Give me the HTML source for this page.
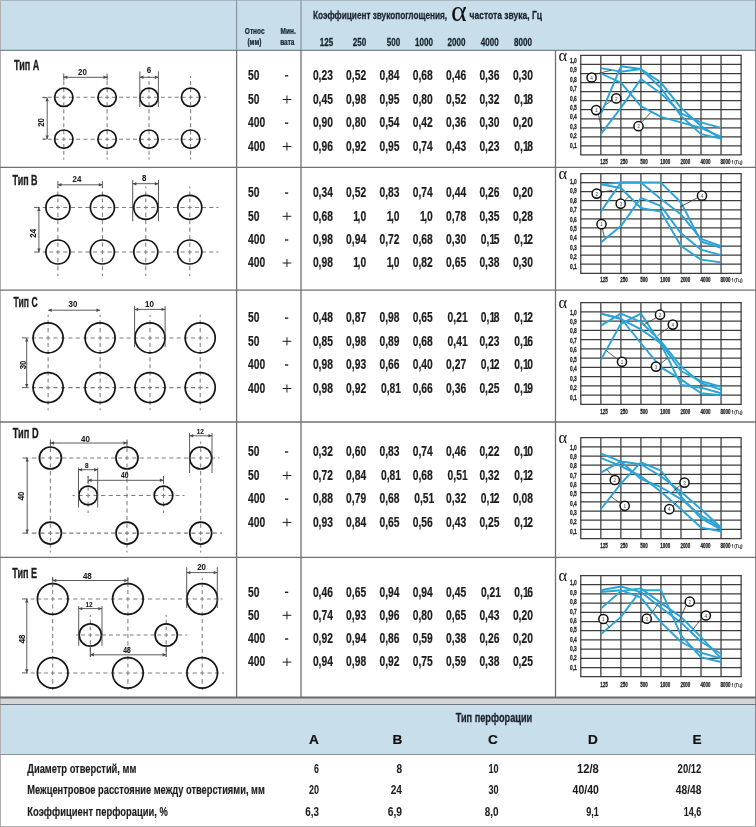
<!DOCTYPE html>
<html><head><meta charset="utf-8"><title>Перфорация</title>
<style>html,body{margin:0;padding:0;background:#fff;} svg{display:block;}</style>
</head><body>
<svg width="756" height="827" viewBox="0 0 756 827" font-family="Liberation Sans, sans-serif">
<rect x="0" y="0" width="756" height="827" fill="#ffffff"/>
<rect x="0" y="0" width="756" height="50" fill="#c8deea"/>
<rect x="0" y="698" width="756" height="6.5" fill="#d3d6db"/>
<rect x="0" y="704.5" width="756" height="50" fill="#c8deea"/>
<line x1="0.00" y1="0.50" x2="756.00" y2="0.50" stroke="#aab5bd" stroke-width="1" />
<line x1="0.50" y1="0.00" x2="0.50" y2="827.00" stroke="#b0b0b0" stroke-width="1" />
<line x1="755.50" y1="0.00" x2="755.50" y2="827.00" stroke="#8a8a8a" stroke-width="1" />
<line x1="0.00" y1="826.50" x2="756.00" y2="826.50" stroke="#b0b0b0" stroke-width="1" />
<line x1="0.00" y1="50.40" x2="756.00" y2="50.40" stroke="#7a858d" stroke-width="1.2" />
<line x1="0.00" y1="167.40" x2="756.00" y2="167.40" stroke="#707070" stroke-width="1.3" />
<line x1="0.00" y1="290.20" x2="756.00" y2="290.20" stroke="#707070" stroke-width="1.3" />
<line x1="0.00" y1="422.00" x2="756.00" y2="422.00" stroke="#707070" stroke-width="1.3" />
<line x1="0.00" y1="557.40" x2="756.00" y2="557.40" stroke="#707070" stroke-width="1.3" />
<line x1="0.00" y1="697.50" x2="756.00" y2="697.50" stroke="#6a6a6a" stroke-width="1.8" />
<line x1="0.00" y1="704.50" x2="756.00" y2="704.50" stroke="#707478" stroke-width="1.2" />
<line x1="0.00" y1="754.50" x2="756.00" y2="754.50" stroke="#8a9298" stroke-width="1" />
<line x1="236.60" y1="0.00" x2="236.60" y2="50.00" stroke="#8d99a3" stroke-width="1.3" />
<line x1="236.60" y1="50.00" x2="236.60" y2="697.00" stroke="#707070" stroke-width="1.3" />
<line x1="301.00" y1="0.00" x2="301.00" y2="50.00" stroke="#8d99a3" stroke-width="1.3" />
<line x1="301.00" y1="50.00" x2="301.00" y2="697.00" stroke="#707070" stroke-width="1.3" />
<line x1="555.50" y1="50.00" x2="555.50" y2="697.00" stroke="#707070" stroke-width="1.3" />
<text transform="translate(254.70,33.90) scale(0.74,1)" font-size="8.8" text-anchor="middle" font-weight="bold" fill="#1b2430" font-family="Liberation Sans" stroke="#1b2430" stroke-width="0.25">Относ</text>
<text transform="translate(254.40,45.40) scale(0.74,1)" font-size="8.8" text-anchor="middle" font-weight="bold" fill="#1b2430" font-family="Liberation Sans" stroke="#1b2430" stroke-width="0.25">(мм)</text>
<text transform="translate(288.20,33.90) scale(0.74,1)" font-size="8.8" text-anchor="middle" font-weight="bold" fill="#1b2430" font-family="Liberation Sans" stroke="#1b2430" stroke-width="0.25">Мин.</text>
<text transform="translate(287.30,45.40) scale(0.74,1)" font-size="8.8" text-anchor="middle" font-weight="bold" fill="#1b2430" font-family="Liberation Sans" stroke="#1b2430" stroke-width="0.25">вата</text>
<text x="313.00" y="18.80" font-size="11.8" textLength="134.00" lengthAdjust="spacingAndGlyphs" text-anchor="start" font-weight="bold" fill="#1b2430" font-family="Liberation Sans" stroke="#1b2430" stroke-width="0.3">Коэффициент звукопоглощения,</text>
<text x="451.0" y="21.0" font-size="30" fill="#111" font-family="Liberation Serif">α</text>
<text x="469.60" y="18.80" font-size="11.8" textLength="72.50" lengthAdjust="spacingAndGlyphs" text-anchor="start" font-weight="bold" fill="#1b2430" font-family="Liberation Sans" stroke="#1b2430" stroke-width="0.3">частота звука, Гц</text>
<text transform="translate(326.50,45.50) scale(0.72,1)" font-size="11.2" text-anchor="middle" font-weight="bold" fill="#1b2430" font-family="Liberation Sans" stroke="#1b2430" stroke-width="0.3">125</text>
<text transform="translate(359.60,45.50) scale(0.72,1)" font-size="11.2" text-anchor="middle" font-weight="bold" fill="#1b2430" font-family="Liberation Sans" stroke="#1b2430" stroke-width="0.3">250</text>
<text transform="translate(393.50,45.50) scale(0.72,1)" font-size="11.2" text-anchor="middle" font-weight="bold" fill="#1b2430" font-family="Liberation Sans" stroke="#1b2430" stroke-width="0.3">500</text>
<text transform="translate(424.00,45.50) scale(0.72,1)" font-size="11.2" text-anchor="middle" font-weight="bold" fill="#1b2430" font-family="Liberation Sans" stroke="#1b2430" stroke-width="0.3">1000</text>
<text transform="translate(456.50,45.50) scale(0.72,1)" font-size="11.2" text-anchor="middle" font-weight="bold" fill="#1b2430" font-family="Liberation Sans" stroke="#1b2430" stroke-width="0.3">2000</text>
<text transform="translate(489.70,45.50) scale(0.72,1)" font-size="11.2" text-anchor="middle" font-weight="bold" fill="#1b2430" font-family="Liberation Sans" stroke="#1b2430" stroke-width="0.3">4000</text>
<text transform="translate(523.00,45.50) scale(0.72,1)" font-size="11.2" text-anchor="middle" font-weight="bold" fill="#1b2430" font-family="Liberation Sans" stroke="#1b2430" stroke-width="0.3">8000</text>
<text transform="translate(248.00,80.00) scale(0.74,1)" font-size="13.9" text-anchor="start" font-weight="bold" fill="#1c1c1c" font-family="Liberation Sans" stroke="#1c1c1c" stroke-width="0.2">50</text>
<line x1="285.00" y1="75.80" x2="288.20" y2="75.80" stroke="#1c1c1c" stroke-width="1.4" />
<text transform="translate(332.90,80.00) scale(0.74,1)" font-size="13.9" text-anchor="end" font-weight="bold" fill="#1c1c1c" font-family="Liberation Sans" stroke="#1c1c1c" stroke-width="0.2">0,23</text>
<text transform="translate(366.10,80.00) scale(0.74,1)" font-size="13.9" text-anchor="end" font-weight="bold" fill="#1c1c1c" font-family="Liberation Sans" stroke="#1c1c1c" stroke-width="0.2">0,52</text>
<text transform="translate(399.50,80.00) scale(0.74,1)" font-size="13.9" text-anchor="end" font-weight="bold" fill="#1c1c1c" font-family="Liberation Sans" stroke="#1c1c1c" stroke-width="0.2">0,84</text>
<text transform="translate(432.80,80.00) scale(0.74,1)" font-size="13.9" text-anchor="end" font-weight="bold" fill="#1c1c1c" font-family="Liberation Sans" stroke="#1c1c1c" stroke-width="0.2">0,68</text>
<text transform="translate(466.10,80.00) scale(0.74,1)" font-size="13.9" text-anchor="end" font-weight="bold" fill="#1c1c1c" font-family="Liberation Sans" stroke="#1c1c1c" stroke-width="0.2">0,46</text>
<text transform="translate(499.40,80.00) scale(0.74,1)" font-size="13.9" text-anchor="end" font-weight="bold" fill="#1c1c1c" font-family="Liberation Sans" stroke="#1c1c1c" stroke-width="0.2">0,36</text>
<text transform="translate(532.90,80.00) scale(0.74,1)" font-size="13.9" text-anchor="end" font-weight="bold" fill="#1c1c1c" font-family="Liberation Sans" stroke="#1c1c1c" stroke-width="0.2">0,30</text>
<text transform="translate(248.00,103.80) scale(0.74,1)" font-size="13.9" text-anchor="start" font-weight="bold" fill="#1c1c1c" font-family="Liberation Sans" stroke="#1c1c1c" stroke-width="0.2">50</text>
<line x1="282.60" y1="99.50" x2="291.30" y2="99.50" stroke="#1c1c1c" stroke-width="1.0" />
<line x1="286.95" y1="95.50" x2="286.95" y2="103.50" stroke="#1c1c1c" stroke-width="1.0" />
<text transform="translate(332.90,103.80) scale(0.74,1)" font-size="13.9" text-anchor="end" font-weight="bold" fill="#1c1c1c" font-family="Liberation Sans" stroke="#1c1c1c" stroke-width="0.2">0,45</text>
<text transform="translate(366.10,103.80) scale(0.74,1)" font-size="13.9" text-anchor="end" font-weight="bold" fill="#1c1c1c" font-family="Liberation Sans" stroke="#1c1c1c" stroke-width="0.2">0,98</text>
<text transform="translate(399.50,103.80) scale(0.74,1)" font-size="13.9" text-anchor="end" font-weight="bold" fill="#1c1c1c" font-family="Liberation Sans" stroke="#1c1c1c" stroke-width="0.2">0,95</text>
<text transform="translate(432.80,103.80) scale(0.74,1)" font-size="13.9" text-anchor="end" font-weight="bold" fill="#1c1c1c" font-family="Liberation Sans" stroke="#1c1c1c" stroke-width="0.2">0,80</text>
<text transform="translate(466.10,103.80) scale(0.74,1)" font-size="13.9" text-anchor="end" font-weight="bold" fill="#1c1c1c" font-family="Liberation Sans" stroke="#1c1c1c" stroke-width="0.2">0,52</text>
<text transform="translate(499.40,103.80) scale(0.74,1)" font-size="13.9" text-anchor="end" font-weight="bold" fill="#1c1c1c" font-family="Liberation Sans" stroke="#1c1c1c" stroke-width="0.2">0,32</text>
<text transform="translate(532.90,103.80) scale(0.74,1)" font-size="13.9" text-anchor="end" font-weight="bold" fill="#1c1c1c" font-family="Liberation Sans" stroke="#1c1c1c" stroke-width="0.2">0,1<tspan dx="-2.0">8</tspan></text>
<text transform="translate(248.00,127.40) scale(0.74,1)" font-size="13.9" text-anchor="start" font-weight="bold" fill="#1c1c1c" font-family="Liberation Sans" stroke="#1c1c1c" stroke-width="0.2">400</text>
<line x1="285.00" y1="123.20" x2="288.20" y2="123.20" stroke="#1c1c1c" stroke-width="1.4" />
<text transform="translate(332.90,127.40) scale(0.74,1)" font-size="13.9" text-anchor="end" font-weight="bold" fill="#1c1c1c" font-family="Liberation Sans" stroke="#1c1c1c" stroke-width="0.2">0,90</text>
<text transform="translate(366.10,127.40) scale(0.74,1)" font-size="13.9" text-anchor="end" font-weight="bold" fill="#1c1c1c" font-family="Liberation Sans" stroke="#1c1c1c" stroke-width="0.2">0,80</text>
<text transform="translate(399.50,127.40) scale(0.74,1)" font-size="13.9" text-anchor="end" font-weight="bold" fill="#1c1c1c" font-family="Liberation Sans" stroke="#1c1c1c" stroke-width="0.2">0,54</text>
<text transform="translate(432.80,127.40) scale(0.74,1)" font-size="13.9" text-anchor="end" font-weight="bold" fill="#1c1c1c" font-family="Liberation Sans" stroke="#1c1c1c" stroke-width="0.2">0,42</text>
<text transform="translate(466.10,127.40) scale(0.74,1)" font-size="13.9" text-anchor="end" font-weight="bold" fill="#1c1c1c" font-family="Liberation Sans" stroke="#1c1c1c" stroke-width="0.2">0,36</text>
<text transform="translate(499.40,127.40) scale(0.74,1)" font-size="13.9" text-anchor="end" font-weight="bold" fill="#1c1c1c" font-family="Liberation Sans" stroke="#1c1c1c" stroke-width="0.2">0,30</text>
<text transform="translate(532.90,127.40) scale(0.74,1)" font-size="13.9" text-anchor="end" font-weight="bold" fill="#1c1c1c" font-family="Liberation Sans" stroke="#1c1c1c" stroke-width="0.2">0,20</text>
<text transform="translate(248.00,150.80) scale(0.74,1)" font-size="13.9" text-anchor="start" font-weight="bold" fill="#1c1c1c" font-family="Liberation Sans" stroke="#1c1c1c" stroke-width="0.2">400</text>
<line x1="282.60" y1="146.50" x2="291.30" y2="146.50" stroke="#1c1c1c" stroke-width="1.0" />
<line x1="286.95" y1="142.50" x2="286.95" y2="150.50" stroke="#1c1c1c" stroke-width="1.0" />
<text transform="translate(332.90,150.80) scale(0.74,1)" font-size="13.9" text-anchor="end" font-weight="bold" fill="#1c1c1c" font-family="Liberation Sans" stroke="#1c1c1c" stroke-width="0.2">0,96</text>
<text transform="translate(366.10,150.80) scale(0.74,1)" font-size="13.9" text-anchor="end" font-weight="bold" fill="#1c1c1c" font-family="Liberation Sans" stroke="#1c1c1c" stroke-width="0.2">0,92</text>
<text transform="translate(399.50,150.80) scale(0.74,1)" font-size="13.9" text-anchor="end" font-weight="bold" fill="#1c1c1c" font-family="Liberation Sans" stroke="#1c1c1c" stroke-width="0.2">0,95</text>
<text transform="translate(432.80,150.80) scale(0.74,1)" font-size="13.9" text-anchor="end" font-weight="bold" fill="#1c1c1c" font-family="Liberation Sans" stroke="#1c1c1c" stroke-width="0.2">0,74</text>
<text transform="translate(466.10,150.80) scale(0.74,1)" font-size="13.9" text-anchor="end" font-weight="bold" fill="#1c1c1c" font-family="Liberation Sans" stroke="#1c1c1c" stroke-width="0.2">0,43</text>
<text transform="translate(499.40,150.80) scale(0.74,1)" font-size="13.9" text-anchor="end" font-weight="bold" fill="#1c1c1c" font-family="Liberation Sans" stroke="#1c1c1c" stroke-width="0.2">0,23</text>
<text transform="translate(532.90,150.80) scale(0.74,1)" font-size="13.9" text-anchor="end" font-weight="bold" fill="#1c1c1c" font-family="Liberation Sans" stroke="#1c1c1c" stroke-width="0.2">0,1<tspan dx="-2.0">8</tspan></text>
<text transform="translate(248.00,197.30) scale(0.74,1)" font-size="13.9" text-anchor="start" font-weight="bold" fill="#1c1c1c" font-family="Liberation Sans" stroke="#1c1c1c" stroke-width="0.2">50</text>
<line x1="285.00" y1="193.10" x2="288.20" y2="193.10" stroke="#1c1c1c" stroke-width="1.4" />
<text transform="translate(332.90,197.30) scale(0.74,1)" font-size="13.9" text-anchor="end" font-weight="bold" fill="#1c1c1c" font-family="Liberation Sans" stroke="#1c1c1c" stroke-width="0.2">0,34</text>
<text transform="translate(366.10,197.30) scale(0.74,1)" font-size="13.9" text-anchor="end" font-weight="bold" fill="#1c1c1c" font-family="Liberation Sans" stroke="#1c1c1c" stroke-width="0.2">0,52</text>
<text transform="translate(399.50,197.30) scale(0.74,1)" font-size="13.9" text-anchor="end" font-weight="bold" fill="#1c1c1c" font-family="Liberation Sans" stroke="#1c1c1c" stroke-width="0.2">0,83</text>
<text transform="translate(432.80,197.30) scale(0.74,1)" font-size="13.9" text-anchor="end" font-weight="bold" fill="#1c1c1c" font-family="Liberation Sans" stroke="#1c1c1c" stroke-width="0.2">0,74</text>
<text transform="translate(466.10,197.30) scale(0.74,1)" font-size="13.9" text-anchor="end" font-weight="bold" fill="#1c1c1c" font-family="Liberation Sans" stroke="#1c1c1c" stroke-width="0.2">0,44</text>
<text transform="translate(499.40,197.30) scale(0.74,1)" font-size="13.9" text-anchor="end" font-weight="bold" fill="#1c1c1c" font-family="Liberation Sans" stroke="#1c1c1c" stroke-width="0.2">0,26</text>
<text transform="translate(532.90,197.30) scale(0.74,1)" font-size="13.9" text-anchor="end" font-weight="bold" fill="#1c1c1c" font-family="Liberation Sans" stroke="#1c1c1c" stroke-width="0.2">0,20</text>
<text transform="translate(248.00,220.60) scale(0.74,1)" font-size="13.9" text-anchor="start" font-weight="bold" fill="#1c1c1c" font-family="Liberation Sans" stroke="#1c1c1c" stroke-width="0.2">50</text>
<line x1="282.60" y1="216.30" x2="291.30" y2="216.30" stroke="#1c1c1c" stroke-width="1.0" />
<line x1="286.95" y1="212.30" x2="286.95" y2="220.30" stroke="#1c1c1c" stroke-width="1.0" />
<text transform="translate(332.90,220.60) scale(0.74,1)" font-size="13.9" text-anchor="end" font-weight="bold" fill="#1c1c1c" font-family="Liberation Sans" stroke="#1c1c1c" stroke-width="0.2">0,68</text>
<text transform="translate(366.10,220.60) scale(0.74,1)" font-size="13.9" text-anchor="end" font-weight="bold" fill="#1c1c1c" font-family="Liberation Sans" stroke="#1c1c1c" stroke-width="0.2">1<tspan dx="-2.0">,</tspan>0</text>
<text transform="translate(399.50,220.60) scale(0.74,1)" font-size="13.9" text-anchor="end" font-weight="bold" fill="#1c1c1c" font-family="Liberation Sans" stroke="#1c1c1c" stroke-width="0.2">1<tspan dx="-2.0">,</tspan>0</text>
<text transform="translate(432.80,220.60) scale(0.74,1)" font-size="13.9" text-anchor="end" font-weight="bold" fill="#1c1c1c" font-family="Liberation Sans" stroke="#1c1c1c" stroke-width="0.2">1<tspan dx="-2.0">,</tspan>0</text>
<text transform="translate(466.10,220.60) scale(0.74,1)" font-size="13.9" text-anchor="end" font-weight="bold" fill="#1c1c1c" font-family="Liberation Sans" stroke="#1c1c1c" stroke-width="0.2">0,78</text>
<text transform="translate(499.40,220.60) scale(0.74,1)" font-size="13.9" text-anchor="end" font-weight="bold" fill="#1c1c1c" font-family="Liberation Sans" stroke="#1c1c1c" stroke-width="0.2">0,35</text>
<text transform="translate(532.90,220.60) scale(0.74,1)" font-size="13.9" text-anchor="end" font-weight="bold" fill="#1c1c1c" font-family="Liberation Sans" stroke="#1c1c1c" stroke-width="0.2">0,28</text>
<text transform="translate(248.00,244.20) scale(0.74,1)" font-size="13.9" text-anchor="start" font-weight="bold" fill="#1c1c1c" font-family="Liberation Sans" stroke="#1c1c1c" stroke-width="0.2">400</text>
<line x1="285.00" y1="240.00" x2="288.20" y2="240.00" stroke="#1c1c1c" stroke-width="1.4" />
<text transform="translate(332.90,244.20) scale(0.74,1)" font-size="13.9" text-anchor="end" font-weight="bold" fill="#1c1c1c" font-family="Liberation Sans" stroke="#1c1c1c" stroke-width="0.2">0,98</text>
<text transform="translate(366.10,244.20) scale(0.74,1)" font-size="13.9" text-anchor="end" font-weight="bold" fill="#1c1c1c" font-family="Liberation Sans" stroke="#1c1c1c" stroke-width="0.2">0,94</text>
<text transform="translate(399.50,244.20) scale(0.74,1)" font-size="13.9" text-anchor="end" font-weight="bold" fill="#1c1c1c" font-family="Liberation Sans" stroke="#1c1c1c" stroke-width="0.2">0,72</text>
<text transform="translate(432.80,244.20) scale(0.74,1)" font-size="13.9" text-anchor="end" font-weight="bold" fill="#1c1c1c" font-family="Liberation Sans" stroke="#1c1c1c" stroke-width="0.2">0,68</text>
<text transform="translate(466.10,244.20) scale(0.74,1)" font-size="13.9" text-anchor="end" font-weight="bold" fill="#1c1c1c" font-family="Liberation Sans" stroke="#1c1c1c" stroke-width="0.2">0,30</text>
<text transform="translate(499.40,244.20) scale(0.74,1)" font-size="13.9" text-anchor="end" font-weight="bold" fill="#1c1c1c" font-family="Liberation Sans" stroke="#1c1c1c" stroke-width="0.2">0,1<tspan dx="-2.0">5</tspan></text>
<text transform="translate(532.90,244.20) scale(0.74,1)" font-size="13.9" text-anchor="end" font-weight="bold" fill="#1c1c1c" font-family="Liberation Sans" stroke="#1c1c1c" stroke-width="0.2">0,1<tspan dx="-2.0">2</tspan></text>
<text transform="translate(248.00,267.30) scale(0.74,1)" font-size="13.9" text-anchor="start" font-weight="bold" fill="#1c1c1c" font-family="Liberation Sans" stroke="#1c1c1c" stroke-width="0.2">400</text>
<line x1="282.60" y1="263.00" x2="291.30" y2="263.00" stroke="#1c1c1c" stroke-width="1.0" />
<line x1="286.95" y1="259.00" x2="286.95" y2="267.00" stroke="#1c1c1c" stroke-width="1.0" />
<text transform="translate(332.90,267.30) scale(0.74,1)" font-size="13.9" text-anchor="end" font-weight="bold" fill="#1c1c1c" font-family="Liberation Sans" stroke="#1c1c1c" stroke-width="0.2">0,98</text>
<text transform="translate(366.10,267.30) scale(0.74,1)" font-size="13.9" text-anchor="end" font-weight="bold" fill="#1c1c1c" font-family="Liberation Sans" stroke="#1c1c1c" stroke-width="0.2">1<tspan dx="-2.0">,</tspan>0</text>
<text transform="translate(399.50,267.30) scale(0.74,1)" font-size="13.9" text-anchor="end" font-weight="bold" fill="#1c1c1c" font-family="Liberation Sans" stroke="#1c1c1c" stroke-width="0.2">1<tspan dx="-2.0">,</tspan>0</text>
<text transform="translate(432.80,267.30) scale(0.74,1)" font-size="13.9" text-anchor="end" font-weight="bold" fill="#1c1c1c" font-family="Liberation Sans" stroke="#1c1c1c" stroke-width="0.2">0,82</text>
<text transform="translate(466.10,267.30) scale(0.74,1)" font-size="13.9" text-anchor="end" font-weight="bold" fill="#1c1c1c" font-family="Liberation Sans" stroke="#1c1c1c" stroke-width="0.2">0,65</text>
<text transform="translate(499.40,267.30) scale(0.74,1)" font-size="13.9" text-anchor="end" font-weight="bold" fill="#1c1c1c" font-family="Liberation Sans" stroke="#1c1c1c" stroke-width="0.2">0,38</text>
<text transform="translate(532.90,267.30) scale(0.74,1)" font-size="13.9" text-anchor="end" font-weight="bold" fill="#1c1c1c" font-family="Liberation Sans" stroke="#1c1c1c" stroke-width="0.2">0,30</text>
<text transform="translate(248.00,322.30) scale(0.74,1)" font-size="13.9" text-anchor="start" font-weight="bold" fill="#1c1c1c" font-family="Liberation Sans" stroke="#1c1c1c" stroke-width="0.2">50</text>
<line x1="285.00" y1="318.10" x2="288.20" y2="318.10" stroke="#1c1c1c" stroke-width="1.4" />
<text transform="translate(332.90,322.30) scale(0.74,1)" font-size="13.9" text-anchor="end" font-weight="bold" fill="#1c1c1c" font-family="Liberation Sans" stroke="#1c1c1c" stroke-width="0.2">0,48</text>
<text transform="translate(366.10,322.30) scale(0.74,1)" font-size="13.9" text-anchor="end" font-weight="bold" fill="#1c1c1c" font-family="Liberation Sans" stroke="#1c1c1c" stroke-width="0.2">0,87</text>
<text transform="translate(399.50,322.30) scale(0.74,1)" font-size="13.9" text-anchor="end" font-weight="bold" fill="#1c1c1c" font-family="Liberation Sans" stroke="#1c1c1c" stroke-width="0.2">0,98</text>
<text transform="translate(432.80,322.30) scale(0.74,1)" font-size="13.9" text-anchor="end" font-weight="bold" fill="#1c1c1c" font-family="Liberation Sans" stroke="#1c1c1c" stroke-width="0.2">0,65</text>
<text transform="translate(467.60,322.30) scale(0.74,1)" font-size="13.9" text-anchor="end" font-weight="bold" fill="#1c1c1c" font-family="Liberation Sans" stroke="#1c1c1c" stroke-width="0.2">0,21</text>
<text transform="translate(499.40,322.30) scale(0.74,1)" font-size="13.9" text-anchor="end" font-weight="bold" fill="#1c1c1c" font-family="Liberation Sans" stroke="#1c1c1c" stroke-width="0.2">0,1<tspan dx="-2.0">8</tspan></text>
<text transform="translate(532.90,322.30) scale(0.74,1)" font-size="13.9" text-anchor="end" font-weight="bold" fill="#1c1c1c" font-family="Liberation Sans" stroke="#1c1c1c" stroke-width="0.2">0,1<tspan dx="-2.0">2</tspan></text>
<text transform="translate(248.00,345.60) scale(0.74,1)" font-size="13.9" text-anchor="start" font-weight="bold" fill="#1c1c1c" font-family="Liberation Sans" stroke="#1c1c1c" stroke-width="0.2">50</text>
<line x1="282.60" y1="341.30" x2="291.30" y2="341.30" stroke="#1c1c1c" stroke-width="1.0" />
<line x1="286.95" y1="337.30" x2="286.95" y2="345.30" stroke="#1c1c1c" stroke-width="1.0" />
<text transform="translate(332.90,345.60) scale(0.74,1)" font-size="13.9" text-anchor="end" font-weight="bold" fill="#1c1c1c" font-family="Liberation Sans" stroke="#1c1c1c" stroke-width="0.2">0,85</text>
<text transform="translate(366.10,345.60) scale(0.74,1)" font-size="13.9" text-anchor="end" font-weight="bold" fill="#1c1c1c" font-family="Liberation Sans" stroke="#1c1c1c" stroke-width="0.2">0,98</text>
<text transform="translate(399.50,345.60) scale(0.74,1)" font-size="13.9" text-anchor="end" font-weight="bold" fill="#1c1c1c" font-family="Liberation Sans" stroke="#1c1c1c" stroke-width="0.2">0,89</text>
<text transform="translate(432.80,345.60) scale(0.74,1)" font-size="13.9" text-anchor="end" font-weight="bold" fill="#1c1c1c" font-family="Liberation Sans" stroke="#1c1c1c" stroke-width="0.2">0,68</text>
<text transform="translate(467.60,345.60) scale(0.74,1)" font-size="13.9" text-anchor="end" font-weight="bold" fill="#1c1c1c" font-family="Liberation Sans" stroke="#1c1c1c" stroke-width="0.2">0,41</text>
<text transform="translate(499.40,345.60) scale(0.74,1)" font-size="13.9" text-anchor="end" font-weight="bold" fill="#1c1c1c" font-family="Liberation Sans" stroke="#1c1c1c" stroke-width="0.2">0,23</text>
<text transform="translate(532.90,345.60) scale(0.74,1)" font-size="13.9" text-anchor="end" font-weight="bold" fill="#1c1c1c" font-family="Liberation Sans" stroke="#1c1c1c" stroke-width="0.2">0,1<tspan dx="-2.0">6</tspan></text>
<text transform="translate(248.00,369.20) scale(0.74,1)" font-size="13.9" text-anchor="start" font-weight="bold" fill="#1c1c1c" font-family="Liberation Sans" stroke="#1c1c1c" stroke-width="0.2">400</text>
<line x1="285.00" y1="365.00" x2="288.20" y2="365.00" stroke="#1c1c1c" stroke-width="1.4" />
<text transform="translate(332.90,369.20) scale(0.74,1)" font-size="13.9" text-anchor="end" font-weight="bold" fill="#1c1c1c" font-family="Liberation Sans" stroke="#1c1c1c" stroke-width="0.2">0,98</text>
<text transform="translate(366.10,369.20) scale(0.74,1)" font-size="13.9" text-anchor="end" font-weight="bold" fill="#1c1c1c" font-family="Liberation Sans" stroke="#1c1c1c" stroke-width="0.2">0,93</text>
<text transform="translate(399.50,369.20) scale(0.74,1)" font-size="13.9" text-anchor="end" font-weight="bold" fill="#1c1c1c" font-family="Liberation Sans" stroke="#1c1c1c" stroke-width="0.2">0,66</text>
<text transform="translate(432.80,369.20) scale(0.74,1)" font-size="13.9" text-anchor="end" font-weight="bold" fill="#1c1c1c" font-family="Liberation Sans" stroke="#1c1c1c" stroke-width="0.2">0,40</text>
<text transform="translate(466.10,369.20) scale(0.74,1)" font-size="13.9" text-anchor="end" font-weight="bold" fill="#1c1c1c" font-family="Liberation Sans" stroke="#1c1c1c" stroke-width="0.2">0,27</text>
<text transform="translate(499.40,369.20) scale(0.74,1)" font-size="13.9" text-anchor="end" font-weight="bold" fill="#1c1c1c" font-family="Liberation Sans" stroke="#1c1c1c" stroke-width="0.2">0,1<tspan dx="-2.0">2</tspan></text>
<text transform="translate(532.90,369.20) scale(0.74,1)" font-size="13.9" text-anchor="end" font-weight="bold" fill="#1c1c1c" font-family="Liberation Sans" stroke="#1c1c1c" stroke-width="0.2">0,1<tspan dx="-2.0">0</tspan></text>
<text transform="translate(248.00,392.80) scale(0.74,1)" font-size="13.9" text-anchor="start" font-weight="bold" fill="#1c1c1c" font-family="Liberation Sans" stroke="#1c1c1c" stroke-width="0.2">400</text>
<line x1="282.60" y1="388.50" x2="291.30" y2="388.50" stroke="#1c1c1c" stroke-width="1.0" />
<line x1="286.95" y1="384.50" x2="286.95" y2="392.50" stroke="#1c1c1c" stroke-width="1.0" />
<text transform="translate(332.90,392.80) scale(0.74,1)" font-size="13.9" text-anchor="end" font-weight="bold" fill="#1c1c1c" font-family="Liberation Sans" stroke="#1c1c1c" stroke-width="0.2">0,98</text>
<text transform="translate(366.10,392.80) scale(0.74,1)" font-size="13.9" text-anchor="end" font-weight="bold" fill="#1c1c1c" font-family="Liberation Sans" stroke="#1c1c1c" stroke-width="0.2">0,92</text>
<text transform="translate(401.00,392.80) scale(0.74,1)" font-size="13.9" text-anchor="end" font-weight="bold" fill="#1c1c1c" font-family="Liberation Sans" stroke="#1c1c1c" stroke-width="0.2">0,81</text>
<text transform="translate(432.80,392.80) scale(0.74,1)" font-size="13.9" text-anchor="end" font-weight="bold" fill="#1c1c1c" font-family="Liberation Sans" stroke="#1c1c1c" stroke-width="0.2">0,66</text>
<text transform="translate(466.10,392.80) scale(0.74,1)" font-size="13.9" text-anchor="end" font-weight="bold" fill="#1c1c1c" font-family="Liberation Sans" stroke="#1c1c1c" stroke-width="0.2">0,36</text>
<text transform="translate(499.40,392.80) scale(0.74,1)" font-size="13.9" text-anchor="end" font-weight="bold" fill="#1c1c1c" font-family="Liberation Sans" stroke="#1c1c1c" stroke-width="0.2">0,25</text>
<text transform="translate(532.90,392.80) scale(0.74,1)" font-size="13.9" text-anchor="end" font-weight="bold" fill="#1c1c1c" font-family="Liberation Sans" stroke="#1c1c1c" stroke-width="0.2">0,1<tspan dx="-2.0">9</tspan></text>
<text transform="translate(248.00,456.20) scale(0.74,1)" font-size="13.9" text-anchor="start" font-weight="bold" fill="#1c1c1c" font-family="Liberation Sans" stroke="#1c1c1c" stroke-width="0.2">50</text>
<line x1="285.00" y1="452.00" x2="288.20" y2="452.00" stroke="#1c1c1c" stroke-width="1.4" />
<text transform="translate(332.90,456.20) scale(0.74,1)" font-size="13.9" text-anchor="end" font-weight="bold" fill="#1c1c1c" font-family="Liberation Sans" stroke="#1c1c1c" stroke-width="0.2">0,32</text>
<text transform="translate(366.10,456.20) scale(0.74,1)" font-size="13.9" text-anchor="end" font-weight="bold" fill="#1c1c1c" font-family="Liberation Sans" stroke="#1c1c1c" stroke-width="0.2">0,60</text>
<text transform="translate(399.50,456.20) scale(0.74,1)" font-size="13.9" text-anchor="end" font-weight="bold" fill="#1c1c1c" font-family="Liberation Sans" stroke="#1c1c1c" stroke-width="0.2">0,83</text>
<text transform="translate(432.80,456.20) scale(0.74,1)" font-size="13.9" text-anchor="end" font-weight="bold" fill="#1c1c1c" font-family="Liberation Sans" stroke="#1c1c1c" stroke-width="0.2">0,74</text>
<text transform="translate(466.10,456.20) scale(0.74,1)" font-size="13.9" text-anchor="end" font-weight="bold" fill="#1c1c1c" font-family="Liberation Sans" stroke="#1c1c1c" stroke-width="0.2">0,46</text>
<text transform="translate(499.40,456.20) scale(0.74,1)" font-size="13.9" text-anchor="end" font-weight="bold" fill="#1c1c1c" font-family="Liberation Sans" stroke="#1c1c1c" stroke-width="0.2">0,22</text>
<text transform="translate(532.90,456.20) scale(0.74,1)" font-size="13.9" text-anchor="end" font-weight="bold" fill="#1c1c1c" font-family="Liberation Sans" stroke="#1c1c1c" stroke-width="0.2">0,1<tspan dx="-2.0">0</tspan></text>
<text transform="translate(248.00,479.80) scale(0.74,1)" font-size="13.9" text-anchor="start" font-weight="bold" fill="#1c1c1c" font-family="Liberation Sans" stroke="#1c1c1c" stroke-width="0.2">50</text>
<line x1="282.60" y1="475.50" x2="291.30" y2="475.50" stroke="#1c1c1c" stroke-width="1.0" />
<line x1="286.95" y1="471.50" x2="286.95" y2="479.50" stroke="#1c1c1c" stroke-width="1.0" />
<text transform="translate(332.90,479.80) scale(0.74,1)" font-size="13.9" text-anchor="end" font-weight="bold" fill="#1c1c1c" font-family="Liberation Sans" stroke="#1c1c1c" stroke-width="0.2">0,72</text>
<text transform="translate(366.10,479.80) scale(0.74,1)" font-size="13.9" text-anchor="end" font-weight="bold" fill="#1c1c1c" font-family="Liberation Sans" stroke="#1c1c1c" stroke-width="0.2">0,84</text>
<text transform="translate(401.00,479.80) scale(0.74,1)" font-size="13.9" text-anchor="end" font-weight="bold" fill="#1c1c1c" font-family="Liberation Sans" stroke="#1c1c1c" stroke-width="0.2">0,81</text>
<text transform="translate(432.80,479.80) scale(0.74,1)" font-size="13.9" text-anchor="end" font-weight="bold" fill="#1c1c1c" font-family="Liberation Sans" stroke="#1c1c1c" stroke-width="0.2">0,68</text>
<text transform="translate(467.60,479.80) scale(0.74,1)" font-size="13.9" text-anchor="end" font-weight="bold" fill="#1c1c1c" font-family="Liberation Sans" stroke="#1c1c1c" stroke-width="0.2">0,51</text>
<text transform="translate(499.40,479.80) scale(0.74,1)" font-size="13.9" text-anchor="end" font-weight="bold" fill="#1c1c1c" font-family="Liberation Sans" stroke="#1c1c1c" stroke-width="0.2">0,32</text>
<text transform="translate(532.90,479.80) scale(0.74,1)" font-size="13.9" text-anchor="end" font-weight="bold" fill="#1c1c1c" font-family="Liberation Sans" stroke="#1c1c1c" stroke-width="0.2">0,1<tspan dx="-2.0">2</tspan></text>
<text transform="translate(248.00,503.40) scale(0.74,1)" font-size="13.9" text-anchor="start" font-weight="bold" fill="#1c1c1c" font-family="Liberation Sans" stroke="#1c1c1c" stroke-width="0.2">400</text>
<line x1="285.00" y1="499.20" x2="288.20" y2="499.20" stroke="#1c1c1c" stroke-width="1.4" />
<text transform="translate(332.90,503.40) scale(0.74,1)" font-size="13.9" text-anchor="end" font-weight="bold" fill="#1c1c1c" font-family="Liberation Sans" stroke="#1c1c1c" stroke-width="0.2">0,88</text>
<text transform="translate(366.10,503.40) scale(0.74,1)" font-size="13.9" text-anchor="end" font-weight="bold" fill="#1c1c1c" font-family="Liberation Sans" stroke="#1c1c1c" stroke-width="0.2">0,79</text>
<text transform="translate(399.50,503.40) scale(0.74,1)" font-size="13.9" text-anchor="end" font-weight="bold" fill="#1c1c1c" font-family="Liberation Sans" stroke="#1c1c1c" stroke-width="0.2">0,68</text>
<text transform="translate(434.30,503.40) scale(0.74,1)" font-size="13.9" text-anchor="end" font-weight="bold" fill="#1c1c1c" font-family="Liberation Sans" stroke="#1c1c1c" stroke-width="0.2">0,51</text>
<text transform="translate(466.10,503.40) scale(0.74,1)" font-size="13.9" text-anchor="end" font-weight="bold" fill="#1c1c1c" font-family="Liberation Sans" stroke="#1c1c1c" stroke-width="0.2">0,32</text>
<text transform="translate(499.40,503.40) scale(0.74,1)" font-size="13.9" text-anchor="end" font-weight="bold" fill="#1c1c1c" font-family="Liberation Sans" stroke="#1c1c1c" stroke-width="0.2">0,1<tspan dx="-2.0">2</tspan></text>
<text transform="translate(532.90,503.40) scale(0.74,1)" font-size="13.9" text-anchor="end" font-weight="bold" fill="#1c1c1c" font-family="Liberation Sans" stroke="#1c1c1c" stroke-width="0.2">0,08</text>
<text transform="translate(248.00,526.70) scale(0.74,1)" font-size="13.9" text-anchor="start" font-weight="bold" fill="#1c1c1c" font-family="Liberation Sans" stroke="#1c1c1c" stroke-width="0.2">400</text>
<line x1="282.60" y1="522.40" x2="291.30" y2="522.40" stroke="#1c1c1c" stroke-width="1.0" />
<line x1="286.95" y1="518.40" x2="286.95" y2="526.40" stroke="#1c1c1c" stroke-width="1.0" />
<text transform="translate(332.90,526.70) scale(0.74,1)" font-size="13.9" text-anchor="end" font-weight="bold" fill="#1c1c1c" font-family="Liberation Sans" stroke="#1c1c1c" stroke-width="0.2">0,93</text>
<text transform="translate(366.10,526.70) scale(0.74,1)" font-size="13.9" text-anchor="end" font-weight="bold" fill="#1c1c1c" font-family="Liberation Sans" stroke="#1c1c1c" stroke-width="0.2">0,84</text>
<text transform="translate(399.50,526.70) scale(0.74,1)" font-size="13.9" text-anchor="end" font-weight="bold" fill="#1c1c1c" font-family="Liberation Sans" stroke="#1c1c1c" stroke-width="0.2">0,65</text>
<text transform="translate(432.80,526.70) scale(0.74,1)" font-size="13.9" text-anchor="end" font-weight="bold" fill="#1c1c1c" font-family="Liberation Sans" stroke="#1c1c1c" stroke-width="0.2">0,56</text>
<text transform="translate(466.10,526.70) scale(0.74,1)" font-size="13.9" text-anchor="end" font-weight="bold" fill="#1c1c1c" font-family="Liberation Sans" stroke="#1c1c1c" stroke-width="0.2">0,43</text>
<text transform="translate(499.40,526.70) scale(0.74,1)" font-size="13.9" text-anchor="end" font-weight="bold" fill="#1c1c1c" font-family="Liberation Sans" stroke="#1c1c1c" stroke-width="0.2">0,25</text>
<text transform="translate(532.90,526.70) scale(0.74,1)" font-size="13.9" text-anchor="end" font-weight="bold" fill="#1c1c1c" font-family="Liberation Sans" stroke="#1c1c1c" stroke-width="0.2">0,1<tspan dx="-2.0">2</tspan></text>
<text transform="translate(248.00,596.50) scale(0.74,1)" font-size="13.9" text-anchor="start" font-weight="bold" fill="#1c1c1c" font-family="Liberation Sans" stroke="#1c1c1c" stroke-width="0.2">50</text>
<line x1="285.00" y1="592.30" x2="288.20" y2="592.30" stroke="#1c1c1c" stroke-width="1.4" />
<text transform="translate(332.90,596.50) scale(0.74,1)" font-size="13.9" text-anchor="end" font-weight="bold" fill="#1c1c1c" font-family="Liberation Sans" stroke="#1c1c1c" stroke-width="0.2">0,46</text>
<text transform="translate(366.10,596.50) scale(0.74,1)" font-size="13.9" text-anchor="end" font-weight="bold" fill="#1c1c1c" font-family="Liberation Sans" stroke="#1c1c1c" stroke-width="0.2">0,65</text>
<text transform="translate(399.50,596.50) scale(0.74,1)" font-size="13.9" text-anchor="end" font-weight="bold" fill="#1c1c1c" font-family="Liberation Sans" stroke="#1c1c1c" stroke-width="0.2">0,94</text>
<text transform="translate(432.80,596.50) scale(0.74,1)" font-size="13.9" text-anchor="end" font-weight="bold" fill="#1c1c1c" font-family="Liberation Sans" stroke="#1c1c1c" stroke-width="0.2">0,94</text>
<text transform="translate(466.10,596.50) scale(0.74,1)" font-size="13.9" text-anchor="end" font-weight="bold" fill="#1c1c1c" font-family="Liberation Sans" stroke="#1c1c1c" stroke-width="0.2">0,45</text>
<text transform="translate(500.90,596.50) scale(0.74,1)" font-size="13.9" text-anchor="end" font-weight="bold" fill="#1c1c1c" font-family="Liberation Sans" stroke="#1c1c1c" stroke-width="0.2">0,21</text>
<text transform="translate(532.90,596.50) scale(0.74,1)" font-size="13.9" text-anchor="end" font-weight="bold" fill="#1c1c1c" font-family="Liberation Sans" stroke="#1c1c1c" stroke-width="0.2">0,1<tspan dx="-2.0">6</tspan></text>
<text transform="translate(248.00,619.60) scale(0.74,1)" font-size="13.9" text-anchor="start" font-weight="bold" fill="#1c1c1c" font-family="Liberation Sans" stroke="#1c1c1c" stroke-width="0.2">50</text>
<line x1="282.60" y1="615.30" x2="291.30" y2="615.30" stroke="#1c1c1c" stroke-width="1.0" />
<line x1="286.95" y1="611.30" x2="286.95" y2="619.30" stroke="#1c1c1c" stroke-width="1.0" />
<text transform="translate(332.90,619.60) scale(0.74,1)" font-size="13.9" text-anchor="end" font-weight="bold" fill="#1c1c1c" font-family="Liberation Sans" stroke="#1c1c1c" stroke-width="0.2">0,74</text>
<text transform="translate(366.10,619.60) scale(0.74,1)" font-size="13.9" text-anchor="end" font-weight="bold" fill="#1c1c1c" font-family="Liberation Sans" stroke="#1c1c1c" stroke-width="0.2">0,93</text>
<text transform="translate(399.50,619.60) scale(0.74,1)" font-size="13.9" text-anchor="end" font-weight="bold" fill="#1c1c1c" font-family="Liberation Sans" stroke="#1c1c1c" stroke-width="0.2">0,96</text>
<text transform="translate(432.80,619.60) scale(0.74,1)" font-size="13.9" text-anchor="end" font-weight="bold" fill="#1c1c1c" font-family="Liberation Sans" stroke="#1c1c1c" stroke-width="0.2">0,80</text>
<text transform="translate(466.10,619.60) scale(0.74,1)" font-size="13.9" text-anchor="end" font-weight="bold" fill="#1c1c1c" font-family="Liberation Sans" stroke="#1c1c1c" stroke-width="0.2">0,65</text>
<text transform="translate(499.40,619.60) scale(0.74,1)" font-size="13.9" text-anchor="end" font-weight="bold" fill="#1c1c1c" font-family="Liberation Sans" stroke="#1c1c1c" stroke-width="0.2">0,43</text>
<text transform="translate(532.90,619.60) scale(0.74,1)" font-size="13.9" text-anchor="end" font-weight="bold" fill="#1c1c1c" font-family="Liberation Sans" stroke="#1c1c1c" stroke-width="0.2">0,20</text>
<text transform="translate(248.00,643.20) scale(0.74,1)" font-size="13.9" text-anchor="start" font-weight="bold" fill="#1c1c1c" font-family="Liberation Sans" stroke="#1c1c1c" stroke-width="0.2">400</text>
<line x1="285.00" y1="639.00" x2="288.20" y2="639.00" stroke="#1c1c1c" stroke-width="1.4" />
<text transform="translate(332.90,643.20) scale(0.74,1)" font-size="13.9" text-anchor="end" font-weight="bold" fill="#1c1c1c" font-family="Liberation Sans" stroke="#1c1c1c" stroke-width="0.2">0,92</text>
<text transform="translate(366.10,643.20) scale(0.74,1)" font-size="13.9" text-anchor="end" font-weight="bold" fill="#1c1c1c" font-family="Liberation Sans" stroke="#1c1c1c" stroke-width="0.2">0,94</text>
<text transform="translate(399.50,643.20) scale(0.74,1)" font-size="13.9" text-anchor="end" font-weight="bold" fill="#1c1c1c" font-family="Liberation Sans" stroke="#1c1c1c" stroke-width="0.2">0,86</text>
<text transform="translate(432.80,643.20) scale(0.74,1)" font-size="13.9" text-anchor="end" font-weight="bold" fill="#1c1c1c" font-family="Liberation Sans" stroke="#1c1c1c" stroke-width="0.2">0,59</text>
<text transform="translate(466.10,643.20) scale(0.74,1)" font-size="13.9" text-anchor="end" font-weight="bold" fill="#1c1c1c" font-family="Liberation Sans" stroke="#1c1c1c" stroke-width="0.2">0,38</text>
<text transform="translate(499.40,643.20) scale(0.74,1)" font-size="13.9" text-anchor="end" font-weight="bold" fill="#1c1c1c" font-family="Liberation Sans" stroke="#1c1c1c" stroke-width="0.2">0,26</text>
<text transform="translate(532.90,643.20) scale(0.74,1)" font-size="13.9" text-anchor="end" font-weight="bold" fill="#1c1c1c" font-family="Liberation Sans" stroke="#1c1c1c" stroke-width="0.2">0,20</text>
<text transform="translate(248.00,666.40) scale(0.74,1)" font-size="13.9" text-anchor="start" font-weight="bold" fill="#1c1c1c" font-family="Liberation Sans" stroke="#1c1c1c" stroke-width="0.2">400</text>
<line x1="282.60" y1="662.10" x2="291.30" y2="662.10" stroke="#1c1c1c" stroke-width="1.0" />
<line x1="286.95" y1="658.10" x2="286.95" y2="666.10" stroke="#1c1c1c" stroke-width="1.0" />
<text transform="translate(332.90,666.40) scale(0.74,1)" font-size="13.9" text-anchor="end" font-weight="bold" fill="#1c1c1c" font-family="Liberation Sans" stroke="#1c1c1c" stroke-width="0.2">0,94</text>
<text transform="translate(366.10,666.40) scale(0.74,1)" font-size="13.9" text-anchor="end" font-weight="bold" fill="#1c1c1c" font-family="Liberation Sans" stroke="#1c1c1c" stroke-width="0.2">0,98</text>
<text transform="translate(399.50,666.40) scale(0.74,1)" font-size="13.9" text-anchor="end" font-weight="bold" fill="#1c1c1c" font-family="Liberation Sans" stroke="#1c1c1c" stroke-width="0.2">0,92</text>
<text transform="translate(432.80,666.40) scale(0.74,1)" font-size="13.9" text-anchor="end" font-weight="bold" fill="#1c1c1c" font-family="Liberation Sans" stroke="#1c1c1c" stroke-width="0.2">0,75</text>
<text transform="translate(466.10,666.40) scale(0.74,1)" font-size="13.9" text-anchor="end" font-weight="bold" fill="#1c1c1c" font-family="Liberation Sans" stroke="#1c1c1c" stroke-width="0.2">0,59</text>
<text transform="translate(499.40,666.40) scale(0.74,1)" font-size="13.9" text-anchor="end" font-weight="bold" fill="#1c1c1c" font-family="Liberation Sans" stroke="#1c1c1c" stroke-width="0.2">0,38</text>
<text transform="translate(532.90,666.40) scale(0.74,1)" font-size="13.9" text-anchor="end" font-weight="bold" fill="#1c1c1c" font-family="Liberation Sans" stroke="#1c1c1c" stroke-width="0.2">0,25</text>
<text x="14.00" y="70.20" font-size="14.0" textLength="25.20" lengthAdjust="spacingAndGlyphs" text-anchor="start" font-weight="bold" fill="#1c1c1c" font-family="Liberation Sans" stroke="#1c1c1c" stroke-width="0.35">Тип A</text>
<line x1="63.80" y1="97.30" x2="42.90" y2="97.30" stroke="#7c7c7c" stroke-width="1.05" stroke-dasharray="3.90 3.07" stroke-dashoffset="1.95"/>
<line x1="63.80" y1="97.30" x2="107.10" y2="97.30" stroke="#7c7c7c" stroke-width="1.05" stroke-dasharray="4.04 3.18" stroke-dashoffset="2.02"/>
<line x1="107.10" y1="97.30" x2="149.00" y2="97.30" stroke="#7c7c7c" stroke-width="1.05" stroke-dasharray="3.91 3.07" stroke-dashoffset="1.96"/>
<line x1="149.00" y1="97.30" x2="190.60" y2="97.30" stroke="#7c7c7c" stroke-width="1.05" stroke-dasharray="3.88 3.05" stroke-dashoffset="1.94"/>
<line x1="190.60" y1="97.30" x2="206.20" y2="97.30" stroke="#7c7c7c" stroke-width="1.05" stroke-dasharray="4.37 3.43" stroke-dashoffset="2.18"/>
<line x1="63.80" y1="139.20" x2="42.90" y2="139.20" stroke="#7c7c7c" stroke-width="1.05" stroke-dasharray="3.90 3.07" stroke-dashoffset="1.95"/>
<line x1="63.80" y1="139.20" x2="107.10" y2="139.20" stroke="#7c7c7c" stroke-width="1.05" stroke-dasharray="4.04 3.18" stroke-dashoffset="2.02"/>
<line x1="107.10" y1="139.20" x2="149.00" y2="139.20" stroke="#7c7c7c" stroke-width="1.05" stroke-dasharray="3.91 3.07" stroke-dashoffset="1.96"/>
<line x1="149.00" y1="139.20" x2="190.60" y2="139.20" stroke="#7c7c7c" stroke-width="1.05" stroke-dasharray="3.88 3.05" stroke-dashoffset="1.94"/>
<line x1="190.60" y1="139.20" x2="206.20" y2="139.20" stroke="#7c7c7c" stroke-width="1.05" stroke-dasharray="4.37 3.43" stroke-dashoffset="2.18"/>
<line x1="63.80" y1="97.30" x2="63.80" y2="76.00" stroke="#7c7c7c" stroke-width="1.05" stroke-dasharray="3.98 3.12" stroke-dashoffset="1.99"/>
<line x1="63.80" y1="97.30" x2="63.80" y2="139.20" stroke="#7c7c7c" stroke-width="1.05" stroke-dasharray="3.91 3.07" stroke-dashoffset="1.96"/>
<line x1="63.80" y1="139.20" x2="63.80" y2="159.50" stroke="#7c7c7c" stroke-width="1.05" stroke-dasharray="3.79 2.98" stroke-dashoffset="1.89"/>
<line x1="107.10" y1="97.30" x2="107.10" y2="76.00" stroke="#7c7c7c" stroke-width="1.05" stroke-dasharray="3.98 3.12" stroke-dashoffset="1.99"/>
<line x1="107.10" y1="97.30" x2="107.10" y2="139.20" stroke="#7c7c7c" stroke-width="1.05" stroke-dasharray="3.91 3.07" stroke-dashoffset="1.96"/>
<line x1="107.10" y1="139.20" x2="107.10" y2="159.50" stroke="#7c7c7c" stroke-width="1.05" stroke-dasharray="3.79 2.98" stroke-dashoffset="1.89"/>
<line x1="149.00" y1="97.30" x2="149.00" y2="76.00" stroke="#7c7c7c" stroke-width="1.05" stroke-dasharray="3.98 3.12" stroke-dashoffset="1.99"/>
<line x1="149.00" y1="97.30" x2="149.00" y2="139.20" stroke="#7c7c7c" stroke-width="1.05" stroke-dasharray="3.91 3.07" stroke-dashoffset="1.96"/>
<line x1="149.00" y1="139.20" x2="149.00" y2="159.50" stroke="#7c7c7c" stroke-width="1.05" stroke-dasharray="3.79 2.98" stroke-dashoffset="1.89"/>
<line x1="190.60" y1="97.30" x2="190.60" y2="76.00" stroke="#7c7c7c" stroke-width="1.05" stroke-dasharray="3.98 3.12" stroke-dashoffset="1.99"/>
<line x1="190.60" y1="97.30" x2="190.60" y2="139.20" stroke="#7c7c7c" stroke-width="1.05" stroke-dasharray="3.91 3.07" stroke-dashoffset="1.96"/>
<line x1="190.60" y1="139.20" x2="190.60" y2="159.50" stroke="#7c7c7c" stroke-width="1.05" stroke-dasharray="3.79 2.98" stroke-dashoffset="1.89"/>
<circle cx="63.80" cy="97.30" r="9.20" fill="none" stroke="#151515" stroke-width="1.7"/>
<circle cx="63.80" cy="139.20" r="9.20" fill="none" stroke="#151515" stroke-width="1.7"/>
<circle cx="107.10" cy="97.30" r="9.20" fill="none" stroke="#151515" stroke-width="1.7"/>
<circle cx="107.10" cy="139.20" r="9.20" fill="none" stroke="#151515" stroke-width="1.7"/>
<circle cx="149.00" cy="97.30" r="9.20" fill="none" stroke="#151515" stroke-width="1.7"/>
<circle cx="149.00" cy="139.20" r="9.20" fill="none" stroke="#151515" stroke-width="1.7"/>
<circle cx="190.60" cy="97.30" r="9.20" fill="none" stroke="#151515" stroke-width="1.7"/>
<circle cx="190.60" cy="139.20" r="9.20" fill="none" stroke="#151515" stroke-width="1.7"/>
<line x1="63.80" y1="77.30" x2="107.10" y2="77.30" stroke="#4a4a4a" stroke-width="0.9" />
<polygon points="63.8,77.3 67.39999999999999,75.6 67.39999999999999,79.0" fill="#4a4a4a"/>
<polygon points="107.1,77.3 103.5,75.6 103.5,79.0" fill="#4a4a4a"/>
<text transform="translate(82.50,75.00) scale(0.8,1)" font-size="9.9" text-anchor="middle" font-weight="bold" fill="#1c1c1c" font-family="Liberation Sans" stroke="#1c1c1c" stroke-width="0.1">20</text>
<line x1="63.80" y1="73.50" x2="63.80" y2="80.50" stroke="#4a4a4a" stroke-width="0.9" />
<line x1="107.10" y1="73.50" x2="107.10" y2="80.50" stroke="#4a4a4a" stroke-width="0.9" />
<line x1="139.80" y1="71.40" x2="139.80" y2="107.00" stroke="#4a4a4a" stroke-width="0.9" />
<line x1="158.40" y1="71.40" x2="158.40" y2="107.00" stroke="#4a4a4a" stroke-width="0.9" />
<line x1="139.80" y1="77.30" x2="158.40" y2="77.30" stroke="#4a4a4a" stroke-width="0.9" />
<polygon points="139.8,77.3 143.4,75.6 143.4,79.0" fill="#4a4a4a"/>
<polygon points="158.4,77.3 154.8,75.6 154.8,79.0" fill="#4a4a4a"/>
<text transform="translate(148.90,73.20) scale(0.8,1)" font-size="9.9" text-anchor="middle" font-weight="bold" fill="#1c1c1c" font-family="Liberation Sans" stroke="#1c1c1c" stroke-width="0.1">6</text>
<line x1="47.20" y1="97.70" x2="47.20" y2="139.00" stroke="#4a4a4a" stroke-width="0.9" />
<polygon points="47.2,97.7 45.5,101.3 48.900000000000006,101.3" fill="#4a4a4a"/>
<polygon points="47.2,139.0 45.5,135.4 48.900000000000006,135.4" fill="#4a4a4a"/>
<line x1="42.40" y1="97.70" x2="47.20" y2="97.70" stroke="#4a4a4a" stroke-width="0.9" />
<line x1="42.40" y1="139.00" x2="47.20" y2="139.00" stroke="#4a4a4a" stroke-width="0.9" />
<text transform="translate(43.90,122.50) rotate(-90) scale(0.8,1)" font-size="9.8" text-anchor="middle" font-weight="bold" fill="#1c1c1c" font-family="Liberation Sans" stroke="#1c1c1c" stroke-width="0.1">20</text>
<text x="12.50" y="184.80" font-size="14.0" textLength="25.00" lengthAdjust="spacingAndGlyphs" text-anchor="start" font-weight="bold" fill="#1c1c1c" font-family="Liberation Sans" stroke="#1c1c1c" stroke-width="0.35">Тип B</text>
<line x1="57.90" y1="207.40" x2="38.00" y2="207.40" stroke="#7c7c7c" stroke-width="1.05" stroke-dasharray="3.71 2.92" stroke-dashoffset="1.86"/>
<line x1="57.90" y1="207.40" x2="102.40" y2="207.40" stroke="#7c7c7c" stroke-width="1.05" stroke-dasharray="4.15 3.26" stroke-dashoffset="2.08"/>
<line x1="102.40" y1="207.40" x2="145.80" y2="207.40" stroke="#7c7c7c" stroke-width="1.05" stroke-dasharray="4.05 3.18" stroke-dashoffset="2.03"/>
<line x1="145.80" y1="207.40" x2="189.80" y2="207.40" stroke="#7c7c7c" stroke-width="1.05" stroke-dasharray="4.11 3.23" stroke-dashoffset="2.05"/>
<line x1="189.80" y1="207.40" x2="218.40" y2="207.40" stroke="#7c7c7c" stroke-width="1.05" stroke-dasharray="4.00 3.15" stroke-dashoffset="2.00"/>
<line x1="57.90" y1="252.00" x2="38.00" y2="252.00" stroke="#7c7c7c" stroke-width="1.05" stroke-dasharray="3.71 2.92" stroke-dashoffset="1.86"/>
<line x1="57.90" y1="252.00" x2="102.40" y2="252.00" stroke="#7c7c7c" stroke-width="1.05" stroke-dasharray="4.15 3.26" stroke-dashoffset="2.08"/>
<line x1="102.40" y1="252.00" x2="145.80" y2="252.00" stroke="#7c7c7c" stroke-width="1.05" stroke-dasharray="4.05 3.18" stroke-dashoffset="2.03"/>
<line x1="145.80" y1="252.00" x2="189.80" y2="252.00" stroke="#7c7c7c" stroke-width="1.05" stroke-dasharray="4.11 3.23" stroke-dashoffset="2.05"/>
<line x1="189.80" y1="252.00" x2="218.40" y2="252.00" stroke="#7c7c7c" stroke-width="1.05" stroke-dasharray="4.00 3.15" stroke-dashoffset="2.00"/>
<line x1="57.90" y1="207.40" x2="57.90" y2="186.40" stroke="#7c7c7c" stroke-width="1.05" stroke-dasharray="3.92 3.08" stroke-dashoffset="1.96"/>
<line x1="57.90" y1="207.40" x2="57.90" y2="252.00" stroke="#7c7c7c" stroke-width="1.05" stroke-dasharray="4.16 3.27" stroke-dashoffset="2.08"/>
<line x1="57.90" y1="252.00" x2="57.90" y2="276.00" stroke="#7c7c7c" stroke-width="1.05" stroke-dasharray="4.48 3.52" stroke-dashoffset="2.24"/>
<line x1="102.40" y1="207.40" x2="102.40" y2="186.40" stroke="#7c7c7c" stroke-width="1.05" stroke-dasharray="3.92 3.08" stroke-dashoffset="1.96"/>
<line x1="102.40" y1="207.40" x2="102.40" y2="252.00" stroke="#7c7c7c" stroke-width="1.05" stroke-dasharray="4.16 3.27" stroke-dashoffset="2.08"/>
<line x1="102.40" y1="252.00" x2="102.40" y2="276.00" stroke="#7c7c7c" stroke-width="1.05" stroke-dasharray="4.48 3.52" stroke-dashoffset="2.24"/>
<line x1="145.80" y1="207.40" x2="145.80" y2="186.40" stroke="#7c7c7c" stroke-width="1.05" stroke-dasharray="3.92 3.08" stroke-dashoffset="1.96"/>
<line x1="145.80" y1="207.40" x2="145.80" y2="252.00" stroke="#7c7c7c" stroke-width="1.05" stroke-dasharray="4.16 3.27" stroke-dashoffset="2.08"/>
<line x1="145.80" y1="252.00" x2="145.80" y2="276.00" stroke="#7c7c7c" stroke-width="1.05" stroke-dasharray="4.48 3.52" stroke-dashoffset="2.24"/>
<line x1="189.80" y1="207.40" x2="189.80" y2="186.40" stroke="#7c7c7c" stroke-width="1.05" stroke-dasharray="3.92 3.08" stroke-dashoffset="1.96"/>
<line x1="189.80" y1="207.40" x2="189.80" y2="252.00" stroke="#7c7c7c" stroke-width="1.05" stroke-dasharray="4.16 3.27" stroke-dashoffset="2.08"/>
<line x1="189.80" y1="252.00" x2="189.80" y2="276.00" stroke="#7c7c7c" stroke-width="1.05" stroke-dasharray="4.48 3.52" stroke-dashoffset="2.24"/>
<circle cx="57.90" cy="207.40" r="12.00" fill="none" stroke="#151515" stroke-width="1.7"/>
<circle cx="57.90" cy="252.00" r="12.00" fill="none" stroke="#151515" stroke-width="1.7"/>
<circle cx="102.40" cy="207.40" r="12.00" fill="none" stroke="#151515" stroke-width="1.7"/>
<circle cx="102.40" cy="252.00" r="12.00" fill="none" stroke="#151515" stroke-width="1.7"/>
<circle cx="145.80" cy="207.40" r="12.00" fill="none" stroke="#151515" stroke-width="1.7"/>
<circle cx="145.80" cy="252.00" r="12.00" fill="none" stroke="#151515" stroke-width="1.7"/>
<circle cx="189.80" cy="207.40" r="12.00" fill="none" stroke="#151515" stroke-width="1.7"/>
<circle cx="189.80" cy="252.00" r="12.00" fill="none" stroke="#151515" stroke-width="1.7"/>
<line x1="57.90" y1="184.80" x2="102.40" y2="184.80" stroke="#4a4a4a" stroke-width="0.9" />
<polygon points="57.9,184.8 61.5,183.10000000000002 61.5,186.5" fill="#4a4a4a"/>
<polygon points="102.4,184.8 98.80000000000001,183.10000000000002 98.80000000000001,186.5" fill="#4a4a4a"/>
<text transform="translate(77.00,181.70) scale(0.8,1)" font-size="9.9" text-anchor="middle" font-weight="bold" fill="#1c1c1c" font-family="Liberation Sans" stroke="#1c1c1c" stroke-width="0.1">24</text>
<line x1="57.90" y1="181.00" x2="57.90" y2="188.00" stroke="#4a4a4a" stroke-width="0.9" />
<line x1="102.40" y1="181.00" x2="102.40" y2="188.00" stroke="#4a4a4a" stroke-width="0.9" />
<line x1="132.70" y1="180.00" x2="132.70" y2="221.30" stroke="#4a4a4a" stroke-width="0.9" />
<line x1="158.50" y1="180.00" x2="158.50" y2="221.30" stroke="#4a4a4a" stroke-width="0.9" />
<line x1="132.70" y1="183.70" x2="158.50" y2="183.70" stroke="#4a4a4a" stroke-width="0.9" />
<polygon points="132.7,183.7 136.29999999999998,182.0 136.29999999999998,185.39999999999998" fill="#4a4a4a"/>
<polygon points="158.5,183.7 154.9,182.0 154.9,185.39999999999998" fill="#4a4a4a"/>
<text transform="translate(144.30,180.90) scale(0.8,1)" font-size="9.9" text-anchor="middle" font-weight="bold" fill="#1c1c1c" font-family="Liberation Sans" stroke="#1c1c1c" stroke-width="0.1">8</text>
<line x1="38.90" y1="207.40" x2="38.90" y2="252.00" stroke="#4a4a4a" stroke-width="0.9" />
<polygon points="38.9,207.4 37.199999999999996,211.0 40.6,211.0" fill="#4a4a4a"/>
<polygon points="38.9,252.0 37.199999999999996,248.4 40.6,248.4" fill="#4a4a4a"/>
<line x1="34.10" y1="207.40" x2="38.90" y2="207.40" stroke="#4a4a4a" stroke-width="0.9" />
<line x1="34.10" y1="252.00" x2="38.90" y2="252.00" stroke="#4a4a4a" stroke-width="0.9" />
<text transform="translate(35.90,233.30) rotate(-90) scale(0.8,1)" font-size="9.8" text-anchor="middle" font-weight="bold" fill="#1c1c1c" font-family="Liberation Sans" stroke="#1c1c1c" stroke-width="0.1">24</text>
<text x="13.60" y="307.00" font-size="14.0" textLength="24.00" lengthAdjust="spacingAndGlyphs" text-anchor="start" font-weight="bold" fill="#1c1c1c" font-family="Liberation Sans" stroke="#1c1c1c" stroke-width="0.35">Тип C</text>
<line x1="48.10" y1="337.90" x2="26.70" y2="337.90" stroke="#7c7c7c" stroke-width="1.05" stroke-dasharray="3.99 3.14" stroke-dashoffset="2.00"/>
<line x1="48.10" y1="337.90" x2="100.10" y2="337.90" stroke="#7c7c7c" stroke-width="1.05" stroke-dasharray="4.16 3.27" stroke-dashoffset="2.08"/>
<line x1="100.10" y1="337.90" x2="150.00" y2="337.90" stroke="#7c7c7c" stroke-width="1.05" stroke-dasharray="3.99 3.14" stroke-dashoffset="2.00"/>
<line x1="150.00" y1="337.90" x2="200.20" y2="337.90" stroke="#7c7c7c" stroke-width="1.05" stroke-dasharray="4.02 3.16" stroke-dashoffset="2.01"/>
<line x1="200.20" y1="337.90" x2="208.30" y2="337.90" stroke="#7c7c7c" stroke-width="1.05" stroke-dasharray="4.54 3.56" stroke-dashoffset="2.27"/>
<line x1="48.10" y1="387.60" x2="26.70" y2="387.60" stroke="#7c7c7c" stroke-width="1.05" stroke-dasharray="3.99 3.14" stroke-dashoffset="2.00"/>
<line x1="48.10" y1="387.60" x2="100.10" y2="387.60" stroke="#7c7c7c" stroke-width="1.05" stroke-dasharray="4.16 3.27" stroke-dashoffset="2.08"/>
<line x1="100.10" y1="387.60" x2="150.00" y2="387.60" stroke="#7c7c7c" stroke-width="1.05" stroke-dasharray="3.99 3.14" stroke-dashoffset="2.00"/>
<line x1="150.00" y1="387.60" x2="200.20" y2="387.60" stroke="#7c7c7c" stroke-width="1.05" stroke-dasharray="4.02 3.16" stroke-dashoffset="2.01"/>
<line x1="200.20" y1="387.60" x2="208.30" y2="387.60" stroke="#7c7c7c" stroke-width="1.05" stroke-dasharray="4.54 3.56" stroke-dashoffset="2.27"/>
<line x1="48.10" y1="337.90" x2="48.10" y2="314.70" stroke="#7c7c7c" stroke-width="1.05" stroke-dasharray="4.33 3.40" stroke-dashoffset="2.17"/>
<line x1="48.10" y1="337.90" x2="48.10" y2="387.60" stroke="#7c7c7c" stroke-width="1.05" stroke-dasharray="3.98 3.12" stroke-dashoffset="1.99"/>
<line x1="48.10" y1="387.60" x2="48.10" y2="410.30" stroke="#7c7c7c" stroke-width="1.05" stroke-dasharray="4.24 3.33" stroke-dashoffset="2.12"/>
<line x1="100.10" y1="337.90" x2="100.10" y2="314.70" stroke="#7c7c7c" stroke-width="1.05" stroke-dasharray="4.33 3.40" stroke-dashoffset="2.17"/>
<line x1="100.10" y1="337.90" x2="100.10" y2="387.60" stroke="#7c7c7c" stroke-width="1.05" stroke-dasharray="3.98 3.12" stroke-dashoffset="1.99"/>
<line x1="100.10" y1="387.60" x2="100.10" y2="410.30" stroke="#7c7c7c" stroke-width="1.05" stroke-dasharray="4.24 3.33" stroke-dashoffset="2.12"/>
<line x1="150.00" y1="337.90" x2="150.00" y2="314.70" stroke="#7c7c7c" stroke-width="1.05" stroke-dasharray="4.33 3.40" stroke-dashoffset="2.17"/>
<line x1="150.00" y1="337.90" x2="150.00" y2="387.60" stroke="#7c7c7c" stroke-width="1.05" stroke-dasharray="3.98 3.12" stroke-dashoffset="1.99"/>
<line x1="150.00" y1="387.60" x2="150.00" y2="410.30" stroke="#7c7c7c" stroke-width="1.05" stroke-dasharray="4.24 3.33" stroke-dashoffset="2.12"/>
<line x1="200.20" y1="337.90" x2="200.20" y2="314.70" stroke="#7c7c7c" stroke-width="1.05" stroke-dasharray="4.33 3.40" stroke-dashoffset="2.17"/>
<line x1="200.20" y1="337.90" x2="200.20" y2="387.60" stroke="#7c7c7c" stroke-width="1.05" stroke-dasharray="3.98 3.12" stroke-dashoffset="1.99"/>
<line x1="200.20" y1="387.60" x2="200.20" y2="410.30" stroke="#7c7c7c" stroke-width="1.05" stroke-dasharray="4.24 3.33" stroke-dashoffset="2.12"/>
<circle cx="48.10" cy="337.90" r="15.00" fill="none" stroke="#151515" stroke-width="1.7"/>
<circle cx="48.10" cy="387.60" r="15.00" fill="none" stroke="#151515" stroke-width="1.7"/>
<circle cx="100.10" cy="337.90" r="15.00" fill="none" stroke="#151515" stroke-width="1.7"/>
<circle cx="100.10" cy="387.60" r="15.00" fill="none" stroke="#151515" stroke-width="1.7"/>
<circle cx="150.00" cy="337.90" r="15.00" fill="none" stroke="#151515" stroke-width="1.7"/>
<circle cx="150.00" cy="387.60" r="15.00" fill="none" stroke="#151515" stroke-width="1.7"/>
<circle cx="200.20" cy="337.90" r="15.00" fill="none" stroke="#151515" stroke-width="1.7"/>
<circle cx="200.20" cy="387.60" r="15.00" fill="none" stroke="#151515" stroke-width="1.7"/>
<line x1="48.10" y1="310.20" x2="100.10" y2="310.20" stroke="#4a4a4a" stroke-width="0.9" />
<polygon points="48.1,310.2 51.7,308.5 51.7,311.9" fill="#4a4a4a"/>
<polygon points="100.1,310.2 96.5,308.5 96.5,311.9" fill="#4a4a4a"/>
<text transform="translate(72.90,307.10) scale(0.8,1)" font-size="9.9" text-anchor="middle" font-weight="bold" fill="#1c1c1c" font-family="Liberation Sans" stroke="#1c1c1c" stroke-width="0.1">30</text>
<line x1="134.60" y1="305.80" x2="134.60" y2="347.10" stroke="#4a4a4a" stroke-width="0.9" />
<line x1="165.10" y1="305.80" x2="165.10" y2="347.10" stroke="#4a4a4a" stroke-width="0.9" />
<line x1="134.60" y1="309.40" x2="165.10" y2="309.40" stroke="#4a4a4a" stroke-width="0.9" />
<polygon points="134.6,309.4 138.2,307.7 138.2,311.09999999999997" fill="#4a4a4a"/>
<polygon points="165.1,309.4 161.5,307.7 161.5,311.09999999999997" fill="#4a4a4a"/>
<text transform="translate(149.50,306.60) scale(0.8,1)" font-size="9.9" text-anchor="middle" font-weight="bold" fill="#1c1c1c" font-family="Liberation Sans" stroke="#1c1c1c" stroke-width="0.1">10</text>
<line x1="26.70" y1="337.90" x2="26.70" y2="387.60" stroke="#4a4a4a" stroke-width="0.9" />
<polygon points="26.7,337.9 25.0,341.5 28.4,341.5" fill="#4a4a4a"/>
<polygon points="26.7,387.6 25.0,384.0 28.4,384.0" fill="#4a4a4a"/>
<line x1="21.90" y1="337.90" x2="26.70" y2="337.90" stroke="#4a4a4a" stroke-width="0.9" />
<line x1="21.90" y1="387.60" x2="26.70" y2="387.60" stroke="#4a4a4a" stroke-width="0.9" />
<text transform="translate(26.10,365.00) rotate(-90) scale(0.8,1)" font-size="9.8" text-anchor="middle" font-weight="bold" fill="#1c1c1c" font-family="Liberation Sans" stroke="#1c1c1c" stroke-width="0.1">30</text>
<text x="12.80" y="438.40" font-size="14.0" textLength="25.80" lengthAdjust="spacingAndGlyphs" text-anchor="start" font-weight="bold" fill="#1c1c1c" font-family="Liberation Sans" stroke="#1c1c1c" stroke-width="0.35">Тип D</text>
<line x1="50.40" y1="458.00" x2="25.90" y2="458.00" stroke="#7c7c7c" stroke-width="1.05" stroke-dasharray="4.57 3.59" stroke-dashoffset="2.29"/>
<line x1="50.40" y1="458.00" x2="127.00" y2="458.00" stroke="#7c7c7c" stroke-width="1.05" stroke-dasharray="3.90 3.06" stroke-dashoffset="1.95"/>
<line x1="127.00" y1="458.00" x2="200.70" y2="458.00" stroke="#7c7c7c" stroke-width="1.05" stroke-dasharray="4.13 3.24" stroke-dashoffset="2.06"/>
<line x1="200.70" y1="458.00" x2="219.60" y2="458.00" stroke="#7c7c7c" stroke-width="1.05" stroke-dasharray="3.53 2.77" stroke-dashoffset="1.76"/>
<line x1="50.40" y1="533.10" x2="25.90" y2="533.10" stroke="#7c7c7c" stroke-width="1.05" stroke-dasharray="4.57 3.59" stroke-dashoffset="2.29"/>
<line x1="50.40" y1="533.10" x2="127.00" y2="533.10" stroke="#7c7c7c" stroke-width="1.05" stroke-dasharray="3.90 3.06" stroke-dashoffset="1.95"/>
<line x1="127.00" y1="533.10" x2="200.70" y2="533.10" stroke="#7c7c7c" stroke-width="1.05" stroke-dasharray="4.13 3.24" stroke-dashoffset="2.06"/>
<line x1="200.70" y1="533.10" x2="222.00" y2="533.10" stroke="#7c7c7c" stroke-width="1.05" stroke-dasharray="3.98 3.12" stroke-dashoffset="1.99"/>
<line x1="88.10" y1="495.50" x2="72.60" y2="495.50" stroke="#7c7c7c" stroke-width="1.05" stroke-dasharray="4.34 3.41" stroke-dashoffset="2.17"/>
<line x1="88.10" y1="495.50" x2="163.50" y2="495.50" stroke="#7c7c7c" stroke-width="1.05" stroke-dasharray="4.22 3.32" stroke-dashoffset="2.11"/>
<line x1="163.50" y1="495.50" x2="184.50" y2="495.50" stroke="#7c7c7c" stroke-width="1.05" stroke-dasharray="3.92 3.08" stroke-dashoffset="1.96"/>
<line x1="50.40" y1="458.00" x2="50.40" y2="441.50" stroke="#7c7c7c" stroke-width="1.05" stroke-dasharray="4.62 3.63" stroke-dashoffset="2.31"/>
<line x1="50.40" y1="458.00" x2="50.40" y2="533.10" stroke="#7c7c7c" stroke-width="1.05" stroke-dasharray="4.21 3.30" stroke-dashoffset="2.10"/>
<line x1="50.40" y1="533.10" x2="50.40" y2="552.50" stroke="#7c7c7c" stroke-width="1.05" stroke-dasharray="3.62 2.85" stroke-dashoffset="1.81"/>
<line x1="127.00" y1="458.00" x2="127.00" y2="441.50" stroke="#7c7c7c" stroke-width="1.05" stroke-dasharray="4.62 3.63" stroke-dashoffset="2.31"/>
<line x1="127.00" y1="458.00" x2="127.00" y2="533.10" stroke="#7c7c7c" stroke-width="1.05" stroke-dasharray="4.21 3.30" stroke-dashoffset="2.10"/>
<line x1="127.00" y1="533.10" x2="127.00" y2="552.50" stroke="#7c7c7c" stroke-width="1.05" stroke-dasharray="3.62 2.85" stroke-dashoffset="1.81"/>
<line x1="200.70" y1="458.00" x2="200.70" y2="441.50" stroke="#7c7c7c" stroke-width="1.05" stroke-dasharray="4.62 3.63" stroke-dashoffset="2.31"/>
<line x1="200.70" y1="458.00" x2="200.70" y2="533.10" stroke="#7c7c7c" stroke-width="1.05" stroke-dasharray="4.21 3.30" stroke-dashoffset="2.10"/>
<line x1="200.70" y1="533.10" x2="200.70" y2="552.50" stroke="#7c7c7c" stroke-width="1.05" stroke-dasharray="3.62 2.85" stroke-dashoffset="1.81"/>
<line x1="88.10" y1="495.50" x2="88.10" y2="476.00" stroke="#7c7c7c" stroke-width="1.05" stroke-dasharray="3.64 2.86" stroke-dashoffset="1.82"/>
<line x1="88.10" y1="495.50" x2="88.10" y2="513.00" stroke="#7c7c7c" stroke-width="1.05" stroke-dasharray="4.90 3.85" stroke-dashoffset="2.45"/>
<line x1="163.50" y1="495.50" x2="163.50" y2="476.00" stroke="#7c7c7c" stroke-width="1.05" stroke-dasharray="3.64 2.86" stroke-dashoffset="1.82"/>
<line x1="163.50" y1="495.50" x2="163.50" y2="513.00" stroke="#7c7c7c" stroke-width="1.05" stroke-dasharray="4.90 3.85" stroke-dashoffset="2.45"/>
<circle cx="50.40" cy="458.00" r="11.00" fill="none" stroke="#151515" stroke-width="1.7"/>
<circle cx="50.40" cy="533.10" r="11.00" fill="none" stroke="#151515" stroke-width="1.7"/>
<circle cx="127.00" cy="458.00" r="11.00" fill="none" stroke="#151515" stroke-width="1.7"/>
<circle cx="127.00" cy="533.10" r="11.00" fill="none" stroke="#151515" stroke-width="1.7"/>
<circle cx="200.70" cy="458.00" r="11.00" fill="none" stroke="#151515" stroke-width="1.7"/>
<circle cx="200.70" cy="533.10" r="11.00" fill="none" stroke="#151515" stroke-width="1.7"/>
<circle cx="88.10" cy="495.50" r="9.30" fill="none" stroke="#151515" stroke-width="1.7"/>
<circle cx="163.50" cy="495.50" r="9.30" fill="none" stroke="#151515" stroke-width="1.7"/>
<line x1="50.40" y1="443.00" x2="127.00" y2="443.00" stroke="#4a4a4a" stroke-width="0.9" />
<polygon points="50.4,443.0 54.0,441.3 54.0,444.7" fill="#4a4a4a"/>
<polygon points="127.0,443.0 123.4,441.3 123.4,444.7" fill="#4a4a4a"/>
<text transform="translate(85.50,441.70) scale(0.8,1)" font-size="9.9" text-anchor="middle" font-weight="bold" fill="#1c1c1c" font-family="Liberation Sans" stroke="#1c1c1c" stroke-width="0.1">40</text>
<line x1="50.40" y1="439.50" x2="50.40" y2="447.00" stroke="#4a4a4a" stroke-width="0.9" />
<line x1="127.00" y1="439.50" x2="127.00" y2="447.00" stroke="#4a4a4a" stroke-width="0.9" />
<line x1="78.50" y1="467.60" x2="78.50" y2="507.60" stroke="#4a4a4a" stroke-width="0.9" />
<line x1="97.70" y1="467.60" x2="97.70" y2="507.60" stroke="#4a4a4a" stroke-width="0.9" />
<line x1="78.50" y1="469.70" x2="97.70" y2="469.70" stroke="#4a4a4a" stroke-width="0.9" />
<polygon points="78.5,469.7 82.1,468.0 82.1,471.4" fill="#4a4a4a"/>
<polygon points="97.7,469.7 94.10000000000001,468.0 94.10000000000001,471.4" fill="#4a4a4a"/>
<text transform="translate(86.80,468.40) scale(0.8,1)" font-size="8.0" text-anchor="middle" font-weight="bold" fill="#1c1c1c" font-family="Liberation Sans" stroke="#1c1c1c" stroke-width="0.1">8</text>
<line x1="88.10" y1="480.30" x2="163.50" y2="480.30" stroke="#4a4a4a" stroke-width="0.9" />
<polygon points="88.1,480.3 91.69999999999999,478.6 91.69999999999999,482.0" fill="#4a4a4a"/>
<polygon points="163.5,480.3 159.9,478.6 159.9,482.0" fill="#4a4a4a"/>
<text transform="translate(124.80,478.20) scale(0.8,1)" font-size="8.4" text-anchor="middle" font-weight="bold" fill="#1c1c1c" font-family="Liberation Sans" stroke="#1c1c1c" stroke-width="0.1">40</text>
<line x1="88.10" y1="476.00" x2="88.10" y2="483.00" stroke="#4a4a4a" stroke-width="0.9" />
<line x1="163.50" y1="476.00" x2="163.50" y2="483.00" stroke="#4a4a4a" stroke-width="0.9" />
<line x1="189.60" y1="433.00" x2="189.60" y2="473.00" stroke="#4a4a4a" stroke-width="0.9" />
<line x1="212.00" y1="433.00" x2="212.00" y2="473.00" stroke="#4a4a4a" stroke-width="0.9" />
<line x1="189.60" y1="435.80" x2="212.00" y2="435.80" stroke="#4a4a4a" stroke-width="0.9" />
<polygon points="189.6,435.8 193.2,434.1 193.2,437.5" fill="#4a4a4a"/>
<polygon points="212.0,435.8 208.4,434.1 208.4,437.5" fill="#4a4a4a"/>
<text transform="translate(200.20,433.50) scale(0.8,1)" font-size="8.0" text-anchor="middle" font-weight="bold" fill="#1c1c1c" font-family="Liberation Sans" stroke="#1c1c1c" stroke-width="0.1">12</text>
<line x1="27.20" y1="458.00" x2="27.20" y2="533.10" stroke="#4a4a4a" stroke-width="0.9" />
<polygon points="27.2,458.0 25.5,461.6 28.9,461.6" fill="#4a4a4a"/>
<polygon points="27.2,533.1 25.5,529.5 28.9,529.5" fill="#4a4a4a"/>
<line x1="22.40" y1="458.00" x2="27.20" y2="458.00" stroke="#4a4a4a" stroke-width="0.9" />
<line x1="22.40" y1="533.10" x2="27.20" y2="533.10" stroke="#4a4a4a" stroke-width="0.9" />
<text transform="translate(24.30,496.00) rotate(-90) scale(0.8,1)" font-size="9.8" text-anchor="middle" font-weight="bold" fill="#1c1c1c" font-family="Liberation Sans" stroke="#1c1c1c" stroke-width="0.1">40</text>
<text x="12.30" y="577.50" font-size="14.0" textLength="24.80" lengthAdjust="spacingAndGlyphs" text-anchor="start" font-weight="bold" fill="#1c1c1c" font-family="Liberation Sans" stroke="#1c1c1c" stroke-width="0.35">Тип E</text>
<line x1="52.70" y1="599.00" x2="26.00" y2="599.00" stroke="#7c7c7c" stroke-width="1.05" stroke-dasharray="3.74 2.94" stroke-dashoffset="1.87"/>
<line x1="52.70" y1="599.00" x2="127.90" y2="599.00" stroke="#7c7c7c" stroke-width="1.05" stroke-dasharray="4.21 3.31" stroke-dashoffset="2.11"/>
<line x1="127.90" y1="599.00" x2="202.20" y2="599.00" stroke="#7c7c7c" stroke-width="1.05" stroke-dasharray="4.16 3.27" stroke-dashoffset="2.08"/>
<line x1="202.20" y1="599.00" x2="222.30" y2="599.00" stroke="#7c7c7c" stroke-width="1.05" stroke-dasharray="3.75 2.95" stroke-dashoffset="1.88"/>
<line x1="52.70" y1="672.90" x2="26.00" y2="672.90" stroke="#7c7c7c" stroke-width="1.05" stroke-dasharray="3.74 2.94" stroke-dashoffset="1.87"/>
<line x1="52.70" y1="672.90" x2="127.90" y2="672.90" stroke="#7c7c7c" stroke-width="1.05" stroke-dasharray="4.21 3.31" stroke-dashoffset="2.11"/>
<line x1="127.90" y1="672.90" x2="202.20" y2="672.90" stroke="#7c7c7c" stroke-width="1.05" stroke-dasharray="4.16 3.27" stroke-dashoffset="2.08"/>
<line x1="202.20" y1="672.90" x2="224.10" y2="672.90" stroke="#7c7c7c" stroke-width="1.05" stroke-dasharray="4.09 3.21" stroke-dashoffset="2.04"/>
<line x1="90.30" y1="635.00" x2="76.00" y2="635.00" stroke="#7c7c7c" stroke-width="1.05" stroke-dasharray="4.00 3.15" stroke-dashoffset="2.00"/>
<line x1="90.30" y1="635.00" x2="166.20" y2="635.00" stroke="#7c7c7c" stroke-width="1.05" stroke-dasharray="3.86 3.04" stroke-dashoffset="1.93"/>
<line x1="166.20" y1="635.00" x2="187.20" y2="635.00" stroke="#7c7c7c" stroke-width="1.05" stroke-dasharray="3.92 3.08" stroke-dashoffset="1.96"/>
<line x1="52.70" y1="599.00" x2="52.70" y2="578.00" stroke="#7c7c7c" stroke-width="1.05" stroke-dasharray="3.92 3.08" stroke-dashoffset="1.96"/>
<line x1="52.70" y1="599.00" x2="52.70" y2="672.90" stroke="#7c7c7c" stroke-width="1.05" stroke-dasharray="4.14 3.25" stroke-dashoffset="2.07"/>
<line x1="52.70" y1="672.90" x2="52.70" y2="690.00" stroke="#7c7c7c" stroke-width="1.05" stroke-dasharray="4.79 3.76" stroke-dashoffset="2.39"/>
<line x1="127.90" y1="599.00" x2="127.90" y2="578.00" stroke="#7c7c7c" stroke-width="1.05" stroke-dasharray="3.92 3.08" stroke-dashoffset="1.96"/>
<line x1="127.90" y1="599.00" x2="127.90" y2="672.90" stroke="#7c7c7c" stroke-width="1.05" stroke-dasharray="4.14 3.25" stroke-dashoffset="2.07"/>
<line x1="127.90" y1="672.90" x2="127.90" y2="690.00" stroke="#7c7c7c" stroke-width="1.05" stroke-dasharray="4.79 3.76" stroke-dashoffset="2.39"/>
<line x1="202.20" y1="599.00" x2="202.20" y2="578.00" stroke="#7c7c7c" stroke-width="1.05" stroke-dasharray="3.92 3.08" stroke-dashoffset="1.96"/>
<line x1="202.20" y1="599.00" x2="202.20" y2="672.90" stroke="#7c7c7c" stroke-width="1.05" stroke-dasharray="4.14 3.25" stroke-dashoffset="2.07"/>
<line x1="202.20" y1="672.90" x2="202.20" y2="690.00" stroke="#7c7c7c" stroke-width="1.05" stroke-dasharray="4.79 3.76" stroke-dashoffset="2.39"/>
<line x1="90.30" y1="635.00" x2="90.30" y2="615.00" stroke="#7c7c7c" stroke-width="1.05" stroke-dasharray="3.73 2.93" stroke-dashoffset="1.87"/>
<line x1="90.30" y1="635.00" x2="90.30" y2="657.00" stroke="#7c7c7c" stroke-width="1.05" stroke-dasharray="4.11 3.23" stroke-dashoffset="2.05"/>
<line x1="166.20" y1="635.00" x2="166.20" y2="615.00" stroke="#7c7c7c" stroke-width="1.05" stroke-dasharray="3.73 2.93" stroke-dashoffset="1.87"/>
<line x1="166.20" y1="635.00" x2="166.20" y2="657.00" stroke="#7c7c7c" stroke-width="1.05" stroke-dasharray="4.11 3.23" stroke-dashoffset="2.05"/>
<circle cx="52.70" cy="599.00" r="15.30" fill="none" stroke="#151515" stroke-width="1.7"/>
<circle cx="52.70" cy="672.90" r="15.30" fill="none" stroke="#151515" stroke-width="1.7"/>
<circle cx="127.90" cy="599.00" r="15.30" fill="none" stroke="#151515" stroke-width="1.7"/>
<circle cx="127.90" cy="672.90" r="15.30" fill="none" stroke="#151515" stroke-width="1.7"/>
<circle cx="202.20" cy="599.00" r="15.30" fill="none" stroke="#151515" stroke-width="1.7"/>
<circle cx="202.20" cy="672.90" r="15.30" fill="none" stroke="#151515" stroke-width="1.7"/>
<circle cx="90.30" cy="635.00" r="11.10" fill="none" stroke="#151515" stroke-width="1.7"/>
<circle cx="166.20" cy="635.00" r="11.10" fill="none" stroke="#151515" stroke-width="1.7"/>
<line x1="52.70" y1="580.50" x2="127.90" y2="580.50" stroke="#4a4a4a" stroke-width="0.9" />
<polygon points="52.7,580.5 56.300000000000004,578.8 56.300000000000004,582.2" fill="#4a4a4a"/>
<polygon points="127.9,580.5 124.30000000000001,578.8 124.30000000000001,582.2" fill="#4a4a4a"/>
<text transform="translate(87.30,578.70) scale(0.8,1)" font-size="9.9" text-anchor="middle" font-weight="bold" fill="#1c1c1c" font-family="Liberation Sans" stroke="#1c1c1c" stroke-width="0.1">48</text>
<line x1="52.70" y1="577.00" x2="52.70" y2="584.00" stroke="#4a4a4a" stroke-width="0.9" />
<line x1="127.90" y1="577.00" x2="127.90" y2="584.00" stroke="#4a4a4a" stroke-width="0.9" />
<line x1="78.70" y1="606.00" x2="78.70" y2="645.80" stroke="#4a4a4a" stroke-width="0.9" />
<line x1="102.00" y1="606.00" x2="102.00" y2="645.80" stroke="#4a4a4a" stroke-width="0.9" />
<line x1="78.70" y1="608.60" x2="102.00" y2="608.60" stroke="#4a4a4a" stroke-width="0.9" />
<polygon points="78.7,608.6 82.3,606.9 82.3,610.3000000000001" fill="#4a4a4a"/>
<polygon points="102.0,608.6 98.4,606.9 98.4,610.3000000000001" fill="#4a4a4a"/>
<text transform="translate(89.00,606.90) scale(0.8,1)" font-size="8.0" text-anchor="middle" font-weight="bold" fill="#1c1c1c" font-family="Liberation Sans" stroke="#1c1c1c" stroke-width="0.1">12</text>
<line x1="90.30" y1="654.80" x2="166.20" y2="654.80" stroke="#4a4a4a" stroke-width="0.9" />
<polygon points="90.3,654.8 93.89999999999999,653.0999999999999 93.89999999999999,656.5" fill="#4a4a4a"/>
<polygon points="166.2,654.8 162.6,653.0999999999999 162.6,656.5" fill="#4a4a4a"/>
<text transform="translate(127.00,653.20) scale(0.8,1)" font-size="8.4" text-anchor="middle" font-weight="bold" fill="#1c1c1c" font-family="Liberation Sans" stroke="#1c1c1c" stroke-width="0.1">48</text>
<line x1="90.30" y1="645.00" x2="90.30" y2="657.00" stroke="#4a4a4a" stroke-width="0.9" />
<line x1="166.20" y1="645.00" x2="166.20" y2="657.00" stroke="#4a4a4a" stroke-width="0.9" />
<line x1="186.70" y1="567.20" x2="186.70" y2="608.00" stroke="#4a4a4a" stroke-width="0.9" />
<line x1="217.30" y1="567.20" x2="217.30" y2="608.00" stroke="#4a4a4a" stroke-width="0.9" />
<line x1="186.70" y1="572.60" x2="217.30" y2="572.60" stroke="#4a4a4a" stroke-width="0.9" />
<polygon points="186.7,572.6 190.29999999999998,570.9 190.29999999999998,574.3000000000001" fill="#4a4a4a"/>
<polygon points="217.3,572.6 213.70000000000002,570.9 213.70000000000002,574.3000000000001" fill="#4a4a4a"/>
<text transform="translate(201.60,569.70) scale(0.8,1)" font-size="9.9" text-anchor="middle" font-weight="bold" fill="#1c1c1c" font-family="Liberation Sans" stroke="#1c1c1c" stroke-width="0.1">20</text>
<line x1="26.80" y1="599.00" x2="26.80" y2="672.90" stroke="#4a4a4a" stroke-width="0.9" />
<polygon points="26.8,599.0 25.1,602.6 28.5,602.6" fill="#4a4a4a"/>
<polygon points="26.8,672.9 25.1,669.3 28.5,669.3" fill="#4a4a4a"/>
<line x1="22.00" y1="599.00" x2="26.80" y2="599.00" stroke="#4a4a4a" stroke-width="0.9" />
<line x1="22.00" y1="672.90" x2="26.80" y2="672.90" stroke="#4a4a4a" stroke-width="0.9" />
<text transform="translate(25.00,638.90) rotate(-90) scale(0.8,1)" font-size="9.8" text-anchor="middle" font-weight="bold" fill="#1c1c1c" font-family="Liberation Sans" stroke="#1c1c1c" stroke-width="0.1">48</text>
<line x1="580.20" y1="55.40" x2="741.70" y2="55.40" stroke="#3c3c3c" stroke-width="1.25" />
<line x1="580.20" y1="64.45" x2="741.70" y2="64.45" stroke="#3c3c3c" stroke-width="1.25" />
<line x1="580.20" y1="73.50" x2="741.70" y2="73.50" stroke="#3c3c3c" stroke-width="1.25" />
<line x1="580.20" y1="82.55" x2="741.70" y2="82.55" stroke="#3c3c3c" stroke-width="1.25" />
<line x1="580.20" y1="91.60" x2="741.70" y2="91.60" stroke="#3c3c3c" stroke-width="1.25" />
<line x1="580.20" y1="100.65" x2="741.70" y2="100.65" stroke="#3c3c3c" stroke-width="1.25" />
<line x1="580.20" y1="109.70" x2="741.70" y2="109.70" stroke="#3c3c3c" stroke-width="1.25" />
<line x1="580.20" y1="118.75" x2="741.70" y2="118.75" stroke="#3c3c3c" stroke-width="1.25" />
<line x1="580.20" y1="127.80" x2="741.70" y2="127.80" stroke="#3c3c3c" stroke-width="1.25" />
<line x1="580.20" y1="136.85" x2="741.70" y2="136.85" stroke="#3c3c3c" stroke-width="1.25" />
<line x1="580.20" y1="145.90" x2="741.70" y2="145.90" stroke="#3c3c3c" stroke-width="1.25" />
<line x1="580.20" y1="154.95" x2="741.70" y2="154.95" stroke="#3c3c3c" stroke-width="1.25" />
<line x1="580.80" y1="55.40" x2="580.80" y2="154.95" stroke="#3c3c3c" stroke-width="1.25" />
<line x1="600.84" y1="55.40" x2="600.84" y2="154.95" stroke="#3c3c3c" stroke-width="1.25" />
<line x1="620.88" y1="55.40" x2="620.88" y2="154.95" stroke="#3c3c3c" stroke-width="1.25" />
<line x1="640.91" y1="55.40" x2="640.91" y2="154.95" stroke="#3c3c3c" stroke-width="1.25" />
<line x1="660.95" y1="55.40" x2="660.95" y2="154.95" stroke="#3c3c3c" stroke-width="1.25" />
<line x1="680.99" y1="55.40" x2="680.99" y2="154.95" stroke="#3c3c3c" stroke-width="1.25" />
<line x1="701.02" y1="55.40" x2="701.02" y2="154.95" stroke="#3c3c3c" stroke-width="1.25" />
<line x1="721.06" y1="55.40" x2="721.06" y2="154.95" stroke="#3c3c3c" stroke-width="1.25" />
<line x1="741.10" y1="55.40" x2="741.10" y2="154.95" stroke="#3c3c3c" stroke-width="1.25" />
<polyline points="600.84,134.14 620.88,107.89 640.91,78.93 660.95,93.41 680.99,113.32 701.02,122.37 721.06,127.80" fill="none" stroke="#2aa3d6" stroke-width="1.9" stroke-linejoin="round"/>
<polyline points="600.84,114.23 620.88,66.26 640.91,68.98 660.95,82.55 680.99,107.89 701.02,125.99 721.06,138.66" fill="none" stroke="#2aa3d6" stroke-width="1.9" stroke-linejoin="round"/>
<polyline points="600.84,73.50 620.88,82.55 640.91,106.08 660.95,116.94 680.99,122.37 701.02,127.80 721.06,136.85" fill="none" stroke="#2aa3d6" stroke-width="1.9" stroke-linejoin="round"/>
<polyline points="600.84,68.07 620.88,71.69 640.91,68.98 660.95,87.98 680.99,116.04 701.02,134.14 721.06,138.66" fill="none" stroke="#2aa3d6" stroke-width="1.9" stroke-linejoin="round"/>
<text transform="translate(576.80,62.80) scale(0.66,1)" font-size="7.4" text-anchor="end" font-weight="bold" fill="#1c1c1c" font-family="Liberation Sans" stroke="#1c1c1c" stroke-width="0.25">1,0</text>
<text transform="translate(576.80,72.24) scale(0.66,1)" font-size="7.4" text-anchor="end" font-weight="bold" fill="#1c1c1c" font-family="Liberation Sans" stroke="#1c1c1c" stroke-width="0.25">0,9</text>
<text transform="translate(576.80,81.68) scale(0.66,1)" font-size="7.4" text-anchor="end" font-weight="bold" fill="#1c1c1c" font-family="Liberation Sans" stroke="#1c1c1c" stroke-width="0.25">0,8</text>
<text transform="translate(576.80,91.12) scale(0.66,1)" font-size="7.4" text-anchor="end" font-weight="bold" fill="#1c1c1c" font-family="Liberation Sans" stroke="#1c1c1c" stroke-width="0.25">0,7</text>
<text transform="translate(576.80,100.56) scale(0.66,1)" font-size="7.4" text-anchor="end" font-weight="bold" fill="#1c1c1c" font-family="Liberation Sans" stroke="#1c1c1c" stroke-width="0.25">0,6</text>
<text transform="translate(576.80,110.00) scale(0.66,1)" font-size="7.4" text-anchor="end" font-weight="bold" fill="#1c1c1c" font-family="Liberation Sans" stroke="#1c1c1c" stroke-width="0.25">0,5</text>
<text transform="translate(576.80,119.44) scale(0.66,1)" font-size="7.4" text-anchor="end" font-weight="bold" fill="#1c1c1c" font-family="Liberation Sans" stroke="#1c1c1c" stroke-width="0.25">0,4</text>
<text transform="translate(576.80,128.88) scale(0.66,1)" font-size="7.4" text-anchor="end" font-weight="bold" fill="#1c1c1c" font-family="Liberation Sans" stroke="#1c1c1c" stroke-width="0.25">0,3</text>
<text transform="translate(576.80,138.32) scale(0.66,1)" font-size="7.4" text-anchor="end" font-weight="bold" fill="#1c1c1c" font-family="Liberation Sans" stroke="#1c1c1c" stroke-width="0.25">0,2</text>
<text transform="translate(576.80,147.76) scale(0.66,1)" font-size="7.4" text-anchor="end" font-weight="bold" fill="#1c1c1c" font-family="Liberation Sans" stroke="#1c1c1c" stroke-width="0.25">0,1</text>
<text x="558.4" y="60.80" font-size="16.5" fill="#111" font-family="Liberation Serif">α</text>
<text transform="translate(600.24,164.25) scale(0.66,1)" font-size="6.8" text-anchor="start" font-weight="bold" fill="#1c1c1c" font-family="Liberation Sans" stroke="#1c1c1c" stroke-width="0.25">125</text>
<text transform="translate(620.27,164.25) scale(0.66,1)" font-size="6.8" text-anchor="start" font-weight="bold" fill="#1c1c1c" font-family="Liberation Sans" stroke="#1c1c1c" stroke-width="0.25">250</text>
<text transform="translate(640.31,164.25) scale(0.66,1)" font-size="6.8" text-anchor="start" font-weight="bold" fill="#1c1c1c" font-family="Liberation Sans" stroke="#1c1c1c" stroke-width="0.25">500</text>
<text transform="translate(660.35,164.25) scale(0.66,1)" font-size="6.8" text-anchor="start" font-weight="bold" fill="#1c1c1c" font-family="Liberation Sans" stroke="#1c1c1c" stroke-width="0.25">1000</text>
<text transform="translate(680.39,164.25) scale(0.66,1)" font-size="6.8" text-anchor="start" font-weight="bold" fill="#1c1c1c" font-family="Liberation Sans" stroke="#1c1c1c" stroke-width="0.25">2000</text>
<text transform="translate(700.42,164.25) scale(0.66,1)" font-size="6.8" text-anchor="start" font-weight="bold" fill="#1c1c1c" font-family="Liberation Sans" stroke="#1c1c1c" stroke-width="0.25">4000</text>
<text transform="translate(720.46,164.25) scale(0.66,1)" font-size="6.8" text-anchor="start" font-weight="bold" fill="#1c1c1c" font-family="Liberation Sans" stroke="#1c1c1c" stroke-width="0.25">8000</text>
<text x="731.80" y="164.25" font-size="5.8" textLength="10.60" lengthAdjust="spacingAndGlyphs" text-anchor="start" font-weight="normal" fill="#1c1c1c" font-family="Liberation Sans" stroke="#1c1c1c" stroke-width="0.2">f (Гц)</text>
<line x1="596.50" y1="74.00" x2="611.00" y2="70.20" stroke="#333" stroke-width="0.8" />
<circle cx="591.6" cy="77.5" r="4.6" fill="#fff" stroke="#111" stroke-width="1.5"/>
<text transform="translate(591.60,79.60) scale(0.8,1)" font-size="5.8" text-anchor="middle" font-weight="normal" fill="#444" font-family="Liberation Sans">4</text>
<line x1="611.70" y1="100.60" x2="605.70" y2="104.70" stroke="#333" stroke-width="0.8" />
<circle cx="616.3" cy="98.4" r="4.6" fill="#fff" stroke="#111" stroke-width="1.5"/>
<text transform="translate(616.30,100.50) scale(0.8,1)" font-size="5.8" text-anchor="middle" font-weight="normal" fill="#444" font-family="Liberation Sans">2</text>
<line x1="598.60" y1="115.00" x2="601.90" y2="131.00" stroke="#333" stroke-width="0.8" />
<circle cx="596.2" cy="110.1" r="4.6" fill="#fff" stroke="#111" stroke-width="1.5"/>
<text transform="translate(596.20,112.20) scale(0.8,1)" font-size="5.8" text-anchor="middle" font-weight="normal" fill="#444" font-family="Liberation Sans">1</text>
<line x1="642.00" y1="121.80" x2="650.80" y2="112.50" stroke="#333" stroke-width="0.8" />
<circle cx="638.5" cy="126.2" r="4.6" fill="#fff" stroke="#111" stroke-width="1.5"/>
<text transform="translate(638.50,128.30) scale(0.8,1)" font-size="5.8" text-anchor="middle" font-weight="normal" fill="#444" font-family="Liberation Sans">3</text>
<line x1="580.20" y1="173.50" x2="741.70" y2="173.50" stroke="#3c3c3c" stroke-width="1.25" />
<line x1="580.20" y1="182.57" x2="741.70" y2="182.57" stroke="#3c3c3c" stroke-width="1.25" />
<line x1="580.20" y1="191.64" x2="741.70" y2="191.64" stroke="#3c3c3c" stroke-width="1.25" />
<line x1="580.20" y1="200.71" x2="741.70" y2="200.71" stroke="#3c3c3c" stroke-width="1.25" />
<line x1="580.20" y1="209.78" x2="741.70" y2="209.78" stroke="#3c3c3c" stroke-width="1.25" />
<line x1="580.20" y1="218.85" x2="741.70" y2="218.85" stroke="#3c3c3c" stroke-width="1.25" />
<line x1="580.20" y1="227.92" x2="741.70" y2="227.92" stroke="#3c3c3c" stroke-width="1.25" />
<line x1="580.20" y1="236.99" x2="741.70" y2="236.99" stroke="#3c3c3c" stroke-width="1.25" />
<line x1="580.20" y1="246.06" x2="741.70" y2="246.06" stroke="#3c3c3c" stroke-width="1.25" />
<line x1="580.20" y1="255.13" x2="741.70" y2="255.13" stroke="#3c3c3c" stroke-width="1.25" />
<line x1="580.20" y1="264.20" x2="741.70" y2="264.20" stroke="#3c3c3c" stroke-width="1.25" />
<line x1="580.20" y1="273.27" x2="741.70" y2="273.27" stroke="#3c3c3c" stroke-width="1.25" />
<line x1="580.80" y1="173.50" x2="580.80" y2="273.27" stroke="#3c3c3c" stroke-width="1.25" />
<line x1="600.84" y1="173.50" x2="600.84" y2="273.27" stroke="#3c3c3c" stroke-width="1.25" />
<line x1="620.88" y1="173.50" x2="620.88" y2="273.27" stroke="#3c3c3c" stroke-width="1.25" />
<line x1="640.91" y1="173.50" x2="640.91" y2="273.27" stroke="#3c3c3c" stroke-width="1.25" />
<line x1="660.95" y1="173.50" x2="660.95" y2="273.27" stroke="#3c3c3c" stroke-width="1.25" />
<line x1="680.99" y1="173.50" x2="680.99" y2="273.27" stroke="#3c3c3c" stroke-width="1.25" />
<line x1="701.02" y1="173.50" x2="701.02" y2="273.27" stroke="#3c3c3c" stroke-width="1.25" />
<line x1="721.06" y1="173.50" x2="721.06" y2="273.27" stroke="#3c3c3c" stroke-width="1.25" />
<line x1="741.10" y1="173.50" x2="741.10" y2="273.27" stroke="#3c3c3c" stroke-width="1.25" />
<polyline points="600.84,242.43 620.88,226.11 640.91,197.99 660.95,206.15 680.99,233.36 701.02,249.69 721.06,255.13" fill="none" stroke="#2aa3d6" stroke-width="1.9" stroke-linejoin="round"/>
<polyline points="600.84,211.59 620.88,182.57 640.91,182.57 660.95,182.57 680.99,202.52 701.02,241.52 721.06,247.87" fill="none" stroke="#2aa3d6" stroke-width="1.9" stroke-linejoin="round"/>
<polyline points="600.84,184.38 620.88,188.01 640.91,207.97 660.95,211.59 680.99,246.06 701.02,259.66 721.06,262.39" fill="none" stroke="#2aa3d6" stroke-width="1.9" stroke-linejoin="round"/>
<polyline points="600.84,184.38 620.88,182.57 640.91,182.57 660.95,198.90 680.99,214.31 701.02,238.80 721.06,246.06" fill="none" stroke="#2aa3d6" stroke-width="1.9" stroke-linejoin="round"/>
<text transform="translate(576.80,183.90) scale(0.66,1)" font-size="7.4" text-anchor="end" font-weight="bold" fill="#1c1c1c" font-family="Liberation Sans" stroke="#1c1c1c" stroke-width="0.25">1,0</text>
<text transform="translate(576.80,193.32) scale(0.66,1)" font-size="7.4" text-anchor="end" font-weight="bold" fill="#1c1c1c" font-family="Liberation Sans" stroke="#1c1c1c" stroke-width="0.25">0,9</text>
<text transform="translate(576.80,202.74) scale(0.66,1)" font-size="7.4" text-anchor="end" font-weight="bold" fill="#1c1c1c" font-family="Liberation Sans" stroke="#1c1c1c" stroke-width="0.25">0,8</text>
<text transform="translate(576.80,212.16) scale(0.66,1)" font-size="7.4" text-anchor="end" font-weight="bold" fill="#1c1c1c" font-family="Liberation Sans" stroke="#1c1c1c" stroke-width="0.25">0,7</text>
<text transform="translate(576.80,221.58) scale(0.66,1)" font-size="7.4" text-anchor="end" font-weight="bold" fill="#1c1c1c" font-family="Liberation Sans" stroke="#1c1c1c" stroke-width="0.25">0,6</text>
<text transform="translate(576.80,231.00) scale(0.66,1)" font-size="7.4" text-anchor="end" font-weight="bold" fill="#1c1c1c" font-family="Liberation Sans" stroke="#1c1c1c" stroke-width="0.25">0,5</text>
<text transform="translate(576.80,240.42) scale(0.66,1)" font-size="7.4" text-anchor="end" font-weight="bold" fill="#1c1c1c" font-family="Liberation Sans" stroke="#1c1c1c" stroke-width="0.25">0,4</text>
<text transform="translate(576.80,249.84) scale(0.66,1)" font-size="7.4" text-anchor="end" font-weight="bold" fill="#1c1c1c" font-family="Liberation Sans" stroke="#1c1c1c" stroke-width="0.25">0,3</text>
<text transform="translate(576.80,259.26) scale(0.66,1)" font-size="7.4" text-anchor="end" font-weight="bold" fill="#1c1c1c" font-family="Liberation Sans" stroke="#1c1c1c" stroke-width="0.25">0,2</text>
<text transform="translate(576.80,268.68) scale(0.66,1)" font-size="7.4" text-anchor="end" font-weight="bold" fill="#1c1c1c" font-family="Liberation Sans" stroke="#1c1c1c" stroke-width="0.25">0,1</text>
<text x="558.4" y="178.90" font-size="16.5" fill="#111" font-family="Liberation Serif">α</text>
<text transform="translate(600.24,282.17) scale(0.66,1)" font-size="6.8" text-anchor="start" font-weight="bold" fill="#1c1c1c" font-family="Liberation Sans" stroke="#1c1c1c" stroke-width="0.25">125</text>
<text transform="translate(620.27,282.17) scale(0.66,1)" font-size="6.8" text-anchor="start" font-weight="bold" fill="#1c1c1c" font-family="Liberation Sans" stroke="#1c1c1c" stroke-width="0.25">250</text>
<text transform="translate(640.31,282.17) scale(0.66,1)" font-size="6.8" text-anchor="start" font-weight="bold" fill="#1c1c1c" font-family="Liberation Sans" stroke="#1c1c1c" stroke-width="0.25">500</text>
<text transform="translate(660.35,282.17) scale(0.66,1)" font-size="6.8" text-anchor="start" font-weight="bold" fill="#1c1c1c" font-family="Liberation Sans" stroke="#1c1c1c" stroke-width="0.25">1000</text>
<text transform="translate(680.39,282.17) scale(0.66,1)" font-size="6.8" text-anchor="start" font-weight="bold" fill="#1c1c1c" font-family="Liberation Sans" stroke="#1c1c1c" stroke-width="0.25">2000</text>
<text transform="translate(700.42,282.17) scale(0.66,1)" font-size="6.8" text-anchor="start" font-weight="bold" fill="#1c1c1c" font-family="Liberation Sans" stroke="#1c1c1c" stroke-width="0.25">4000</text>
<text transform="translate(720.46,282.17) scale(0.66,1)" font-size="6.8" text-anchor="start" font-weight="bold" fill="#1c1c1c" font-family="Liberation Sans" stroke="#1c1c1c" stroke-width="0.25">8000</text>
<text x="731.80" y="282.17" font-size="5.8" textLength="10.60" lengthAdjust="spacingAndGlyphs" text-anchor="start" font-weight="normal" fill="#1c1c1c" font-family="Liberation Sans" stroke="#1c1c1c" stroke-width="0.2">f (Гц)</text>
<line x1="601.50" y1="192.20" x2="612.00" y2="190.40" stroke="#333" stroke-width="0.8" />
<circle cx="596.7" cy="193.6" r="4.6" fill="#fff" stroke="#111" stroke-width="1.5"/>
<text transform="translate(596.70,195.70) scale(0.8,1)" font-size="5.8" text-anchor="middle" font-weight="normal" fill="#444" font-family="Liberation Sans">2</text>
<line x1="624.50" y1="200.80" x2="629.40" y2="196.20" stroke="#333" stroke-width="0.8" />
<circle cx="620.7" cy="203.7" r="4.6" fill="#fff" stroke="#111" stroke-width="1.5"/>
<text transform="translate(620.70,205.80) scale(0.8,1)" font-size="5.8" text-anchor="middle" font-weight="normal" fill="#444" font-family="Liberation Sans">3</text>
<line x1="602.50" y1="229.00" x2="604.20" y2="236.70" stroke="#333" stroke-width="0.8" />
<circle cx="601.5" cy="224.2" r="4.6" fill="#fff" stroke="#111" stroke-width="1.5"/>
<text transform="translate(601.50,226.30) scale(0.8,1)" font-size="5.8" text-anchor="middle" font-weight="normal" fill="#444" font-family="Liberation Sans">1</text>
<line x1="697.40" y1="197.80" x2="680.00" y2="206.90" stroke="#333" stroke-width="0.8" />
<circle cx="702.0" cy="195.7" r="4.6" fill="#fff" stroke="#111" stroke-width="1.5"/>
<text transform="translate(702.00,197.80) scale(0.8,1)" font-size="5.8" text-anchor="middle" font-weight="normal" fill="#444" font-family="Liberation Sans">4</text>
<line x1="580.20" y1="302.50" x2="741.70" y2="302.50" stroke="#3c3c3c" stroke-width="1.25" />
<line x1="580.20" y1="311.76" x2="741.70" y2="311.76" stroke="#3c3c3c" stroke-width="1.25" />
<line x1="580.20" y1="321.02" x2="741.70" y2="321.02" stroke="#3c3c3c" stroke-width="1.25" />
<line x1="580.20" y1="330.28" x2="741.70" y2="330.28" stroke="#3c3c3c" stroke-width="1.25" />
<line x1="580.20" y1="339.54" x2="741.70" y2="339.54" stroke="#3c3c3c" stroke-width="1.25" />
<line x1="580.20" y1="348.80" x2="741.70" y2="348.80" stroke="#3c3c3c" stroke-width="1.25" />
<line x1="580.20" y1="358.06" x2="741.70" y2="358.06" stroke="#3c3c3c" stroke-width="1.25" />
<line x1="580.20" y1="367.32" x2="741.70" y2="367.32" stroke="#3c3c3c" stroke-width="1.25" />
<line x1="580.20" y1="376.58" x2="741.70" y2="376.58" stroke="#3c3c3c" stroke-width="1.25" />
<line x1="580.20" y1="385.84" x2="741.70" y2="385.84" stroke="#3c3c3c" stroke-width="1.25" />
<line x1="580.20" y1="395.10" x2="741.70" y2="395.10" stroke="#3c3c3c" stroke-width="1.25" />
<line x1="580.20" y1="404.36" x2="741.70" y2="404.36" stroke="#3c3c3c" stroke-width="1.25" />
<line x1="580.80" y1="302.50" x2="580.80" y2="404.36" stroke="#3c3c3c" stroke-width="1.25" />
<line x1="600.84" y1="302.50" x2="600.84" y2="404.36" stroke="#3c3c3c" stroke-width="1.25" />
<line x1="620.88" y1="302.50" x2="620.88" y2="404.36" stroke="#3c3c3c" stroke-width="1.25" />
<line x1="640.91" y1="302.50" x2="640.91" y2="404.36" stroke="#3c3c3c" stroke-width="1.25" />
<line x1="660.95" y1="302.50" x2="660.95" y2="404.36" stroke="#3c3c3c" stroke-width="1.25" />
<line x1="680.99" y1="302.50" x2="680.99" y2="404.36" stroke="#3c3c3c" stroke-width="1.25" />
<line x1="701.02" y1="302.50" x2="701.02" y2="404.36" stroke="#3c3c3c" stroke-width="1.25" />
<line x1="721.06" y1="302.50" x2="721.06" y2="404.36" stroke="#3c3c3c" stroke-width="1.25" />
<line x1="741.10" y1="302.50" x2="741.10" y2="404.36" stroke="#3c3c3c" stroke-width="1.25" />
<polyline points="600.84,359.91 620.88,323.80 640.91,313.61 660.95,344.17 680.99,384.91 701.02,387.69 721.06,393.25" fill="none" stroke="#2aa3d6" stroke-width="1.9" stroke-linejoin="round"/>
<polyline points="600.84,325.65 620.88,313.61 640.91,321.95 660.95,341.39 680.99,366.39 701.02,383.06 721.06,389.54" fill="none" stroke="#2aa3d6" stroke-width="1.9" stroke-linejoin="round"/>
<polyline points="600.84,313.61 620.88,318.24 640.91,343.24 660.95,367.32 680.99,379.36 701.02,393.25 721.06,395.10" fill="none" stroke="#2aa3d6" stroke-width="1.9" stroke-linejoin="round"/>
<polyline points="600.84,313.61 620.88,319.17 640.91,329.35 660.95,343.24 680.99,371.02 701.02,381.21 721.06,386.77" fill="none" stroke="#2aa3d6" stroke-width="1.9" stroke-linejoin="round"/>
<text transform="translate(576.80,314.50) scale(0.66,1)" font-size="7.4" text-anchor="end" font-weight="bold" fill="#1c1c1c" font-family="Liberation Sans" stroke="#1c1c1c" stroke-width="0.25">1,0</text>
<text transform="translate(576.80,323.95) scale(0.66,1)" font-size="7.4" text-anchor="end" font-weight="bold" fill="#1c1c1c" font-family="Liberation Sans" stroke="#1c1c1c" stroke-width="0.25">0,9</text>
<text transform="translate(576.80,333.40) scale(0.66,1)" font-size="7.4" text-anchor="end" font-weight="bold" fill="#1c1c1c" font-family="Liberation Sans" stroke="#1c1c1c" stroke-width="0.25">0,8</text>
<text transform="translate(576.80,342.85) scale(0.66,1)" font-size="7.4" text-anchor="end" font-weight="bold" fill="#1c1c1c" font-family="Liberation Sans" stroke="#1c1c1c" stroke-width="0.25">0,7</text>
<text transform="translate(576.80,352.30) scale(0.66,1)" font-size="7.4" text-anchor="end" font-weight="bold" fill="#1c1c1c" font-family="Liberation Sans" stroke="#1c1c1c" stroke-width="0.25">0,6</text>
<text transform="translate(576.80,361.75) scale(0.66,1)" font-size="7.4" text-anchor="end" font-weight="bold" fill="#1c1c1c" font-family="Liberation Sans" stroke="#1c1c1c" stroke-width="0.25">0,5</text>
<text transform="translate(576.80,371.20) scale(0.66,1)" font-size="7.4" text-anchor="end" font-weight="bold" fill="#1c1c1c" font-family="Liberation Sans" stroke="#1c1c1c" stroke-width="0.25">0,4</text>
<text transform="translate(576.80,380.65) scale(0.66,1)" font-size="7.4" text-anchor="end" font-weight="bold" fill="#1c1c1c" font-family="Liberation Sans" stroke="#1c1c1c" stroke-width="0.25">0,3</text>
<text transform="translate(576.80,390.10) scale(0.66,1)" font-size="7.4" text-anchor="end" font-weight="bold" fill="#1c1c1c" font-family="Liberation Sans" stroke="#1c1c1c" stroke-width="0.25">0,2</text>
<text transform="translate(576.80,399.55) scale(0.66,1)" font-size="7.4" text-anchor="end" font-weight="bold" fill="#1c1c1c" font-family="Liberation Sans" stroke="#1c1c1c" stroke-width="0.25">0,1</text>
<text x="558.4" y="307.90" font-size="16.5" fill="#111" font-family="Liberation Serif">α</text>
<text transform="translate(600.24,414.36) scale(0.66,1)" font-size="6.8" text-anchor="start" font-weight="bold" fill="#1c1c1c" font-family="Liberation Sans" stroke="#1c1c1c" stroke-width="0.25">125</text>
<text transform="translate(620.27,414.36) scale(0.66,1)" font-size="6.8" text-anchor="start" font-weight="bold" fill="#1c1c1c" font-family="Liberation Sans" stroke="#1c1c1c" stroke-width="0.25">250</text>
<text transform="translate(640.31,414.36) scale(0.66,1)" font-size="6.8" text-anchor="start" font-weight="bold" fill="#1c1c1c" font-family="Liberation Sans" stroke="#1c1c1c" stroke-width="0.25">500</text>
<text transform="translate(660.35,414.36) scale(0.66,1)" font-size="6.8" text-anchor="start" font-weight="bold" fill="#1c1c1c" font-family="Liberation Sans" stroke="#1c1c1c" stroke-width="0.25">1000</text>
<text transform="translate(680.39,414.36) scale(0.66,1)" font-size="6.8" text-anchor="start" font-weight="bold" fill="#1c1c1c" font-family="Liberation Sans" stroke="#1c1c1c" stroke-width="0.25">2000</text>
<text transform="translate(700.42,414.36) scale(0.66,1)" font-size="6.8" text-anchor="start" font-weight="bold" fill="#1c1c1c" font-family="Liberation Sans" stroke="#1c1c1c" stroke-width="0.25">4000</text>
<text transform="translate(720.46,414.36) scale(0.66,1)" font-size="6.8" text-anchor="start" font-weight="bold" fill="#1c1c1c" font-family="Liberation Sans" stroke="#1c1c1c" stroke-width="0.25">8000</text>
<text x="731.80" y="414.36" font-size="5.8" textLength="10.60" lengthAdjust="spacingAndGlyphs" text-anchor="start" font-weight="normal" fill="#1c1c1c" font-family="Liberation Sans" stroke="#1c1c1c" stroke-width="0.2">f (Гц)</text>
<line x1="656.00" y1="317.80" x2="644.00" y2="324.60" stroke="#333" stroke-width="0.8" />
<circle cx="660.0" cy="314.7" r="4.6" fill="#fff" stroke="#111" stroke-width="1.5"/>
<text transform="translate(660.00,316.80) scale(0.8,1)" font-size="5.8" text-anchor="middle" font-weight="normal" fill="#444" font-family="Liberation Sans">2</text>
<line x1="668.60" y1="327.60" x2="657.40" y2="335.70" stroke="#333" stroke-width="0.8" />
<circle cx="672.8" cy="324.6" r="4.6" fill="#fff" stroke="#111" stroke-width="1.5"/>
<text transform="translate(672.80,326.70) scale(0.8,1)" font-size="5.8" text-anchor="middle" font-weight="normal" fill="#444" font-family="Liberation Sans">4</text>
<line x1="617.60" y1="359.40" x2="606.80" y2="351.00" stroke="#333" stroke-width="0.8" />
<circle cx="622.0" cy="361.8" r="4.6" fill="#fff" stroke="#111" stroke-width="1.5"/>
<text transform="translate(622.00,363.90) scale(0.8,1)" font-size="5.8" text-anchor="middle" font-weight="normal" fill="#444" font-family="Liberation Sans">1</text>
<line x1="660.20" y1="364.00" x2="668.00" y2="357.80" stroke="#333" stroke-width="0.8" />
<circle cx="656.0" cy="366.6" r="4.6" fill="#fff" stroke="#111" stroke-width="1.5"/>
<text transform="translate(656.00,368.70) scale(0.8,1)" font-size="5.8" text-anchor="middle" font-weight="normal" fill="#444" font-family="Liberation Sans">3</text>
<line x1="580.20" y1="437.70" x2="741.70" y2="437.70" stroke="#3c3c3c" stroke-width="1.25" />
<line x1="580.20" y1="446.87" x2="741.70" y2="446.87" stroke="#3c3c3c" stroke-width="1.25" />
<line x1="580.20" y1="456.04" x2="741.70" y2="456.04" stroke="#3c3c3c" stroke-width="1.25" />
<line x1="580.20" y1="465.21" x2="741.70" y2="465.21" stroke="#3c3c3c" stroke-width="1.25" />
<line x1="580.20" y1="474.38" x2="741.70" y2="474.38" stroke="#3c3c3c" stroke-width="1.25" />
<line x1="580.20" y1="483.55" x2="741.70" y2="483.55" stroke="#3c3c3c" stroke-width="1.25" />
<line x1="580.20" y1="492.72" x2="741.70" y2="492.72" stroke="#3c3c3c" stroke-width="1.25" />
<line x1="580.20" y1="501.89" x2="741.70" y2="501.89" stroke="#3c3c3c" stroke-width="1.25" />
<line x1="580.20" y1="511.06" x2="741.70" y2="511.06" stroke="#3c3c3c" stroke-width="1.25" />
<line x1="580.20" y1="520.23" x2="741.70" y2="520.23" stroke="#3c3c3c" stroke-width="1.25" />
<line x1="580.20" y1="529.40" x2="741.70" y2="529.40" stroke="#3c3c3c" stroke-width="1.25" />
<line x1="580.20" y1="538.57" x2="741.70" y2="538.57" stroke="#3c3c3c" stroke-width="1.25" />
<line x1="580.80" y1="437.70" x2="580.80" y2="538.57" stroke="#3c3c3c" stroke-width="1.25" />
<line x1="600.84" y1="437.70" x2="600.84" y2="538.57" stroke="#3c3c3c" stroke-width="1.25" />
<line x1="620.88" y1="437.70" x2="620.88" y2="538.57" stroke="#3c3c3c" stroke-width="1.25" />
<line x1="640.91" y1="437.70" x2="640.91" y2="538.57" stroke="#3c3c3c" stroke-width="1.25" />
<line x1="660.95" y1="437.70" x2="660.95" y2="538.57" stroke="#3c3c3c" stroke-width="1.25" />
<line x1="680.99" y1="437.70" x2="680.99" y2="538.57" stroke="#3c3c3c" stroke-width="1.25" />
<line x1="701.02" y1="437.70" x2="701.02" y2="538.57" stroke="#3c3c3c" stroke-width="1.25" />
<line x1="721.06" y1="437.70" x2="721.06" y2="538.57" stroke="#3c3c3c" stroke-width="1.25" />
<line x1="741.10" y1="437.70" x2="741.10" y2="538.57" stroke="#3c3c3c" stroke-width="1.25" />
<polyline points="600.84,509.23 620.88,483.55 640.91,462.46 660.95,470.71 680.99,496.39 701.02,518.40 721.06,529.40" fill="none" stroke="#2aa3d6" stroke-width="1.9" stroke-linejoin="round"/>
<polyline points="600.84,472.55 620.88,461.54 640.91,464.29 660.95,476.21 680.99,491.80 701.02,509.23 721.06,527.57" fill="none" stroke="#2aa3d6" stroke-width="1.9" stroke-linejoin="round"/>
<polyline points="600.84,457.87 620.88,466.13 640.91,476.21 660.95,491.80 680.99,509.23 701.02,527.57 721.06,531.23" fill="none" stroke="#2aa3d6" stroke-width="1.9" stroke-linejoin="round"/>
<polyline points="600.84,453.29 620.88,461.54 640.91,478.96 660.95,487.22 680.99,499.14 701.02,515.64 721.06,527.57" fill="none" stroke="#2aa3d6" stroke-width="1.9" stroke-linejoin="round"/>
<text transform="translate(576.80,449.60) scale(0.66,1)" font-size="7.4" text-anchor="end" font-weight="bold" fill="#1c1c1c" font-family="Liberation Sans" stroke="#1c1c1c" stroke-width="0.25">1,0</text>
<text transform="translate(576.80,458.93) scale(0.66,1)" font-size="7.4" text-anchor="end" font-weight="bold" fill="#1c1c1c" font-family="Liberation Sans" stroke="#1c1c1c" stroke-width="0.25">0,9</text>
<text transform="translate(576.80,468.26) scale(0.66,1)" font-size="7.4" text-anchor="end" font-weight="bold" fill="#1c1c1c" font-family="Liberation Sans" stroke="#1c1c1c" stroke-width="0.25">0,8</text>
<text transform="translate(576.80,477.59) scale(0.66,1)" font-size="7.4" text-anchor="end" font-weight="bold" fill="#1c1c1c" font-family="Liberation Sans" stroke="#1c1c1c" stroke-width="0.25">0,7</text>
<text transform="translate(576.80,486.92) scale(0.66,1)" font-size="7.4" text-anchor="end" font-weight="bold" fill="#1c1c1c" font-family="Liberation Sans" stroke="#1c1c1c" stroke-width="0.25">0,6</text>
<text transform="translate(576.80,496.25) scale(0.66,1)" font-size="7.4" text-anchor="end" font-weight="bold" fill="#1c1c1c" font-family="Liberation Sans" stroke="#1c1c1c" stroke-width="0.25">0,5</text>
<text transform="translate(576.80,505.58) scale(0.66,1)" font-size="7.4" text-anchor="end" font-weight="bold" fill="#1c1c1c" font-family="Liberation Sans" stroke="#1c1c1c" stroke-width="0.25">0,4</text>
<text transform="translate(576.80,514.91) scale(0.66,1)" font-size="7.4" text-anchor="end" font-weight="bold" fill="#1c1c1c" font-family="Liberation Sans" stroke="#1c1c1c" stroke-width="0.25">0,3</text>
<text transform="translate(576.80,524.24) scale(0.66,1)" font-size="7.4" text-anchor="end" font-weight="bold" fill="#1c1c1c" font-family="Liberation Sans" stroke="#1c1c1c" stroke-width="0.25">0,2</text>
<text transform="translate(576.80,533.57) scale(0.66,1)" font-size="7.4" text-anchor="end" font-weight="bold" fill="#1c1c1c" font-family="Liberation Sans" stroke="#1c1c1c" stroke-width="0.25">0,1</text>
<text x="558.4" y="443.10" font-size="16.5" fill="#111" font-family="Liberation Serif">α</text>
<text transform="translate(600.24,548.37) scale(0.66,1)" font-size="6.8" text-anchor="start" font-weight="bold" fill="#1c1c1c" font-family="Liberation Sans" stroke="#1c1c1c" stroke-width="0.25">125</text>
<text transform="translate(620.27,548.37) scale(0.66,1)" font-size="6.8" text-anchor="start" font-weight="bold" fill="#1c1c1c" font-family="Liberation Sans" stroke="#1c1c1c" stroke-width="0.25">250</text>
<text transform="translate(640.31,548.37) scale(0.66,1)" font-size="6.8" text-anchor="start" font-weight="bold" fill="#1c1c1c" font-family="Liberation Sans" stroke="#1c1c1c" stroke-width="0.25">500</text>
<text transform="translate(660.35,548.37) scale(0.66,1)" font-size="6.8" text-anchor="start" font-weight="bold" fill="#1c1c1c" font-family="Liberation Sans" stroke="#1c1c1c" stroke-width="0.25">1000</text>
<text transform="translate(680.39,548.37) scale(0.66,1)" font-size="6.8" text-anchor="start" font-weight="bold" fill="#1c1c1c" font-family="Liberation Sans" stroke="#1c1c1c" stroke-width="0.25">2000</text>
<text transform="translate(700.42,548.37) scale(0.66,1)" font-size="6.8" text-anchor="start" font-weight="bold" fill="#1c1c1c" font-family="Liberation Sans" stroke="#1c1c1c" stroke-width="0.25">4000</text>
<text transform="translate(720.46,548.37) scale(0.66,1)" font-size="6.8" text-anchor="start" font-weight="bold" fill="#1c1c1c" font-family="Liberation Sans" stroke="#1c1c1c" stroke-width="0.25">8000</text>
<text x="731.80" y="548.37" font-size="5.8" textLength="10.60" lengthAdjust="spacingAndGlyphs" text-anchor="start" font-weight="normal" fill="#1c1c1c" font-family="Liberation Sans" stroke="#1c1c1c" stroke-width="0.2">f (Гц)</text>
<line x1="612.20" y1="476.00" x2="606.80" y2="469.30" stroke="#333" stroke-width="0.8" />
<circle cx="614.8" cy="480.0" r="4.6" fill="#fff" stroke="#111" stroke-width="1.5"/>
<text transform="translate(614.80,482.10) scale(0.8,1)" font-size="5.8" text-anchor="middle" font-weight="normal" fill="#444" font-family="Liberation Sans">2</text>
<line x1="620.40" y1="503.40" x2="610.80" y2="496.40" stroke="#333" stroke-width="0.8" />
<circle cx="624.7" cy="505.8" r="4.6" fill="#fff" stroke="#111" stroke-width="1.5"/>
<text transform="translate(624.70,507.90) scale(0.8,1)" font-size="5.8" text-anchor="middle" font-weight="normal" fill="#444" font-family="Liberation Sans">1</text>
<line x1="680.40" y1="485.20" x2="672.00" y2="492.50" stroke="#333" stroke-width="0.8" />
<circle cx="684.5" cy="482.6" r="4.6" fill="#fff" stroke="#111" stroke-width="1.5"/>
<text transform="translate(684.50,484.70) scale(0.8,1)" font-size="5.8" text-anchor="middle" font-weight="normal" fill="#444" font-family="Liberation Sans">3</text>
<line x1="673.00" y1="506.00" x2="678.60" y2="500.40" stroke="#333" stroke-width="0.8" />
<circle cx="669.3" cy="509.2" r="4.6" fill="#fff" stroke="#111" stroke-width="1.5"/>
<text transform="translate(669.30,511.30) scale(0.8,1)" font-size="5.8" text-anchor="middle" font-weight="normal" fill="#444" font-family="Liberation Sans">4</text>
<line x1="580.20" y1="575.50" x2="741.70" y2="575.50" stroke="#3c3c3c" stroke-width="1.25" />
<line x1="580.20" y1="584.70" x2="741.70" y2="584.70" stroke="#3c3c3c" stroke-width="1.25" />
<line x1="580.20" y1="593.90" x2="741.70" y2="593.90" stroke="#3c3c3c" stroke-width="1.25" />
<line x1="580.20" y1="603.10" x2="741.70" y2="603.10" stroke="#3c3c3c" stroke-width="1.25" />
<line x1="580.20" y1="612.30" x2="741.70" y2="612.30" stroke="#3c3c3c" stroke-width="1.25" />
<line x1="580.20" y1="621.50" x2="741.70" y2="621.50" stroke="#3c3c3c" stroke-width="1.25" />
<line x1="580.20" y1="630.70" x2="741.70" y2="630.70" stroke="#3c3c3c" stroke-width="1.25" />
<line x1="580.20" y1="639.90" x2="741.70" y2="639.90" stroke="#3c3c3c" stroke-width="1.25" />
<line x1="580.20" y1="649.10" x2="741.70" y2="649.10" stroke="#3c3c3c" stroke-width="1.25" />
<line x1="580.20" y1="658.30" x2="741.70" y2="658.30" stroke="#3c3c3c" stroke-width="1.25" />
<line x1="580.20" y1="667.50" x2="741.70" y2="667.50" stroke="#3c3c3c" stroke-width="1.25" />
<line x1="580.20" y1="676.70" x2="741.70" y2="676.70" stroke="#3c3c3c" stroke-width="1.25" />
<line x1="580.80" y1="575.50" x2="580.80" y2="676.70" stroke="#3c3c3c" stroke-width="1.25" />
<line x1="600.84" y1="575.50" x2="600.84" y2="676.70" stroke="#3c3c3c" stroke-width="1.25" />
<line x1="620.88" y1="575.50" x2="620.88" y2="676.70" stroke="#3c3c3c" stroke-width="1.25" />
<line x1="640.91" y1="575.50" x2="640.91" y2="676.70" stroke="#3c3c3c" stroke-width="1.25" />
<line x1="660.95" y1="575.50" x2="660.95" y2="676.70" stroke="#3c3c3c" stroke-width="1.25" />
<line x1="680.99" y1="575.50" x2="680.99" y2="676.70" stroke="#3c3c3c" stroke-width="1.25" />
<line x1="701.02" y1="575.50" x2="701.02" y2="676.70" stroke="#3c3c3c" stroke-width="1.25" />
<line x1="721.06" y1="575.50" x2="721.06" y2="676.70" stroke="#3c3c3c" stroke-width="1.25" />
<line x1="741.10" y1="575.50" x2="741.10" y2="676.70" stroke="#3c3c3c" stroke-width="1.25" />
<polyline points="600.84,634.38 620.88,616.90 640.91,590.22 660.95,590.22 680.99,635.30 701.02,657.38 721.06,661.98" fill="none" stroke="#2aa3d6" stroke-width="1.9" stroke-linejoin="round"/>
<polyline points="600.84,608.62 620.88,591.14 640.91,588.38 660.95,603.10 680.99,616.90 701.02,637.14 721.06,658.30" fill="none" stroke="#2aa3d6" stroke-width="1.9" stroke-linejoin="round"/>
<polyline points="600.84,592.06 620.88,590.22 640.91,597.58 660.95,622.42 680.99,641.74 701.02,652.78 721.06,658.30" fill="none" stroke="#2aa3d6" stroke-width="1.9" stroke-linejoin="round"/>
<polyline points="600.84,590.22 620.88,586.54 640.91,592.06 660.95,607.70 680.99,622.42 701.02,641.74 721.06,653.70" fill="none" stroke="#2aa3d6" stroke-width="1.9" stroke-linejoin="round"/>
<text transform="translate(576.80,585.40) scale(0.66,1)" font-size="7.4" text-anchor="end" font-weight="bold" fill="#1c1c1c" font-family="Liberation Sans" stroke="#1c1c1c" stroke-width="0.25">1,0</text>
<text transform="translate(576.80,594.78) scale(0.66,1)" font-size="7.4" text-anchor="end" font-weight="bold" fill="#1c1c1c" font-family="Liberation Sans" stroke="#1c1c1c" stroke-width="0.25">0,9</text>
<text transform="translate(576.80,604.16) scale(0.66,1)" font-size="7.4" text-anchor="end" font-weight="bold" fill="#1c1c1c" font-family="Liberation Sans" stroke="#1c1c1c" stroke-width="0.25">0,8</text>
<text transform="translate(576.80,613.54) scale(0.66,1)" font-size="7.4" text-anchor="end" font-weight="bold" fill="#1c1c1c" font-family="Liberation Sans" stroke="#1c1c1c" stroke-width="0.25">0,7</text>
<text transform="translate(576.80,622.92) scale(0.66,1)" font-size="7.4" text-anchor="end" font-weight="bold" fill="#1c1c1c" font-family="Liberation Sans" stroke="#1c1c1c" stroke-width="0.25">0,6</text>
<text transform="translate(576.80,632.30) scale(0.66,1)" font-size="7.4" text-anchor="end" font-weight="bold" fill="#1c1c1c" font-family="Liberation Sans" stroke="#1c1c1c" stroke-width="0.25">0,5</text>
<text transform="translate(576.80,641.68) scale(0.66,1)" font-size="7.4" text-anchor="end" font-weight="bold" fill="#1c1c1c" font-family="Liberation Sans" stroke="#1c1c1c" stroke-width="0.25">0,4</text>
<text transform="translate(576.80,651.06) scale(0.66,1)" font-size="7.4" text-anchor="end" font-weight="bold" fill="#1c1c1c" font-family="Liberation Sans" stroke="#1c1c1c" stroke-width="0.25">0,3</text>
<text transform="translate(576.80,660.44) scale(0.66,1)" font-size="7.4" text-anchor="end" font-weight="bold" fill="#1c1c1c" font-family="Liberation Sans" stroke="#1c1c1c" stroke-width="0.25">0,2</text>
<text transform="translate(576.80,669.82) scale(0.66,1)" font-size="7.4" text-anchor="end" font-weight="bold" fill="#1c1c1c" font-family="Liberation Sans" stroke="#1c1c1c" stroke-width="0.25">0,1</text>
<text x="558.4" y="580.90" font-size="16.5" fill="#111" font-family="Liberation Serif">α</text>
<text transform="translate(600.24,686.80) scale(0.66,1)" font-size="6.8" text-anchor="start" font-weight="bold" fill="#1c1c1c" font-family="Liberation Sans" stroke="#1c1c1c" stroke-width="0.25">125</text>
<text transform="translate(620.27,686.80) scale(0.66,1)" font-size="6.8" text-anchor="start" font-weight="bold" fill="#1c1c1c" font-family="Liberation Sans" stroke="#1c1c1c" stroke-width="0.25">250</text>
<text transform="translate(640.31,686.80) scale(0.66,1)" font-size="6.8" text-anchor="start" font-weight="bold" fill="#1c1c1c" font-family="Liberation Sans" stroke="#1c1c1c" stroke-width="0.25">500</text>
<text transform="translate(660.35,686.80) scale(0.66,1)" font-size="6.8" text-anchor="start" font-weight="bold" fill="#1c1c1c" font-family="Liberation Sans" stroke="#1c1c1c" stroke-width="0.25">1000</text>
<text transform="translate(680.39,686.80) scale(0.66,1)" font-size="6.8" text-anchor="start" font-weight="bold" fill="#1c1c1c" font-family="Liberation Sans" stroke="#1c1c1c" stroke-width="0.25">2000</text>
<text transform="translate(700.42,686.80) scale(0.66,1)" font-size="6.8" text-anchor="start" font-weight="bold" fill="#1c1c1c" font-family="Liberation Sans" stroke="#1c1c1c" stroke-width="0.25">4000</text>
<text transform="translate(720.46,686.80) scale(0.66,1)" font-size="6.8" text-anchor="start" font-weight="bold" fill="#1c1c1c" font-family="Liberation Sans" stroke="#1c1c1c" stroke-width="0.25">8000</text>
<text x="731.80" y="686.80" font-size="5.8" textLength="10.60" lengthAdjust="spacingAndGlyphs" text-anchor="start" font-weight="normal" fill="#1c1c1c" font-family="Liberation Sans" stroke="#1c1c1c" stroke-width="0.2">f (Гц)</text>
<line x1="606.00" y1="623.00" x2="609.50" y2="627.50" stroke="#333" stroke-width="0.8" />
<circle cx="603.4" cy="619.0" r="4.6" fill="#fff" stroke="#111" stroke-width="1.5"/>
<text transform="translate(603.40,621.10) scale(0.8,1)" font-size="5.8" text-anchor="middle" font-weight="normal" fill="#444" font-family="Liberation Sans">1</text>
<line x1="650.20" y1="615.20" x2="657.40" y2="604.90" stroke="#333" stroke-width="0.8" />
<circle cx="646.7" cy="618.7" r="4.6" fill="#fff" stroke="#111" stroke-width="1.5"/>
<text transform="translate(646.70,620.80) scale(0.8,1)" font-size="5.8" text-anchor="middle" font-weight="normal" fill="#444" font-family="Liberation Sans">3</text>
<line x1="686.20" y1="605.00" x2="678.60" y2="622.10" stroke="#333" stroke-width="0.8" />
<circle cx="689.8" cy="601.7" r="4.6" fill="#fff" stroke="#111" stroke-width="1.5"/>
<text transform="translate(689.80,603.80) scale(0.8,1)" font-size="5.8" text-anchor="middle" font-weight="normal" fill="#444" font-family="Liberation Sans">2</text>
<line x1="701.80" y1="618.40" x2="693.30" y2="628.80" stroke="#333" stroke-width="0.8" />
<circle cx="705.8" cy="615.5" r="4.6" fill="#fff" stroke="#111" stroke-width="1.5"/>
<text transform="translate(705.80,617.60) scale(0.8,1)" font-size="5.8" text-anchor="middle" font-weight="normal" fill="#444" font-family="Liberation Sans">4</text>
<text x="455.70" y="722.20" font-size="12.8" textLength="76.50" lengthAdjust="spacingAndGlyphs" text-anchor="start" font-weight="bold" fill="#1b2430" font-family="Liberation Sans" stroke="#1b2430" stroke-width="0.3">Тип перфорации</text>
<text transform="translate(313.90,744.30) scale(1.0,1)" font-size="13.6" text-anchor="middle" font-weight="bold" fill="#111" font-family="Liberation Sans" stroke="#111" stroke-width="0.2">A</text>
<text transform="translate(397.40,744.30) scale(1.0,1)" font-size="13.6" text-anchor="middle" font-weight="bold" fill="#111" font-family="Liberation Sans" stroke="#111" stroke-width="0.2">B</text>
<text transform="translate(492.90,744.30) scale(1.0,1)" font-size="13.6" text-anchor="middle" font-weight="bold" fill="#111" font-family="Liberation Sans" stroke="#111" stroke-width="0.2">C</text>
<text transform="translate(592.80,744.30) scale(1.0,1)" font-size="13.6" text-anchor="middle" font-weight="bold" fill="#111" font-family="Liberation Sans" stroke="#111" stroke-width="0.2">D</text>
<text transform="translate(697.10,744.30) scale(1.0,1)" font-size="13.6" text-anchor="middle" font-weight="bold" fill="#111" font-family="Liberation Sans" stroke="#111" stroke-width="0.2">E</text>
<text x="27.30" y="772.60" font-size="12.8" textLength="109.00" lengthAdjust="spacingAndGlyphs" text-anchor="start" font-weight="bold" fill="#1c1c1c" font-family="Liberation Sans" stroke="#1c1c1c" stroke-width="0.15">Диаметр отверстий, мм</text>
<text x="319.00" y="772.60" font-size="12.8" textLength="4.90" lengthAdjust="spacingAndGlyphs" text-anchor="end" font-weight="bold" fill="#1c1c1c" font-family="Liberation Sans" stroke="#1c1c1c" stroke-width="0.05">6</text>
<text x="402.00" y="772.60" font-size="12.8" textLength="5.60" lengthAdjust="spacingAndGlyphs" text-anchor="end" font-weight="bold" fill="#1c1c1c" font-family="Liberation Sans" stroke="#1c1c1c" stroke-width="0.05">8</text>
<text x="498.60" y="772.60" font-size="12.8" textLength="10.10" lengthAdjust="spacingAndGlyphs" text-anchor="end" font-weight="bold" fill="#1c1c1c" font-family="Liberation Sans" stroke="#1c1c1c" stroke-width="0.05">10</text>
<text x="598.80" y="772.60" font-size="12.8" textLength="21.80" lengthAdjust="spacingAndGlyphs" text-anchor="end" font-weight="bold" fill="#1c1c1c" font-family="Liberation Sans" stroke="#1c1c1c" stroke-width="0.05">12/8</text>
<text x="701.40" y="772.60" font-size="12.8" textLength="23.80" lengthAdjust="spacingAndGlyphs" text-anchor="end" font-weight="bold" fill="#1c1c1c" font-family="Liberation Sans" stroke="#1c1c1c" stroke-width="0.05">20/12</text>
<text x="27.30" y="794.40" font-size="12.8" textLength="237.50" lengthAdjust="spacingAndGlyphs" text-anchor="start" font-weight="bold" fill="#1c1c1c" font-family="Liberation Sans" stroke="#1c1c1c" stroke-width="0.15">Межцентровое расстояние между отверстиями, мм</text>
<text x="319.00" y="794.40" font-size="12.8" textLength="10.00" lengthAdjust="spacingAndGlyphs" text-anchor="end" font-weight="bold" fill="#1c1c1c" font-family="Liberation Sans" stroke="#1c1c1c" stroke-width="0.05">20</text>
<text x="402.00" y="794.40" font-size="12.8" textLength="11.30" lengthAdjust="spacingAndGlyphs" text-anchor="end" font-weight="bold" fill="#1c1c1c" font-family="Liberation Sans" stroke="#1c1c1c" stroke-width="0.05">24</text>
<text x="498.60" y="794.40" font-size="12.8" textLength="10.10" lengthAdjust="spacingAndGlyphs" text-anchor="end" font-weight="bold" fill="#1c1c1c" font-family="Liberation Sans" stroke="#1c1c1c" stroke-width="0.05">30</text>
<text x="598.80" y="794.40" font-size="12.8" textLength="26.20" lengthAdjust="spacingAndGlyphs" text-anchor="end" font-weight="bold" fill="#1c1c1c" font-family="Liberation Sans" stroke="#1c1c1c" stroke-width="0.05">40/40</text>
<text x="701.40" y="794.40" font-size="12.8" textLength="25.60" lengthAdjust="spacingAndGlyphs" text-anchor="end" font-weight="bold" fill="#1c1c1c" font-family="Liberation Sans" stroke="#1c1c1c" stroke-width="0.05">48/48</text>
<text x="27.30" y="816.20" font-size="12.8" textLength="140.50" lengthAdjust="spacingAndGlyphs" text-anchor="start" font-weight="bold" fill="#1c1c1c" font-family="Liberation Sans" stroke="#1c1c1c" stroke-width="0.15">Коэффициент перфорации, %</text>
<text x="319.00" y="816.20" font-size="12.8" textLength="13.70" lengthAdjust="spacingAndGlyphs" text-anchor="end" font-weight="bold" fill="#1c1c1c" font-family="Liberation Sans" stroke="#1c1c1c" stroke-width="0.05">6,3</text>
<text x="402.00" y="816.20" font-size="12.8" textLength="14.30" lengthAdjust="spacingAndGlyphs" text-anchor="end" font-weight="bold" fill="#1c1c1c" font-family="Liberation Sans" stroke="#1c1c1c" stroke-width="0.05">6,9</text>
<text x="498.60" y="816.20" font-size="12.8" textLength="13.80" lengthAdjust="spacingAndGlyphs" text-anchor="end" font-weight="bold" fill="#1c1c1c" font-family="Liberation Sans" stroke="#1c1c1c" stroke-width="0.05">8,0</text>
<text x="598.80" y="816.20" font-size="12.8" textLength="12.60" lengthAdjust="spacingAndGlyphs" text-anchor="end" font-weight="bold" fill="#1c1c1c" font-family="Liberation Sans" stroke="#1c1c1c" stroke-width="0.05">9,1</text>
<text x="701.40" y="816.20" font-size="12.8" textLength="17.70" lengthAdjust="spacingAndGlyphs" text-anchor="end" font-weight="bold" fill="#1c1c1c" font-family="Liberation Sans" stroke="#1c1c1c" stroke-width="0.05">14,6</text>
</svg>
</body></html>
